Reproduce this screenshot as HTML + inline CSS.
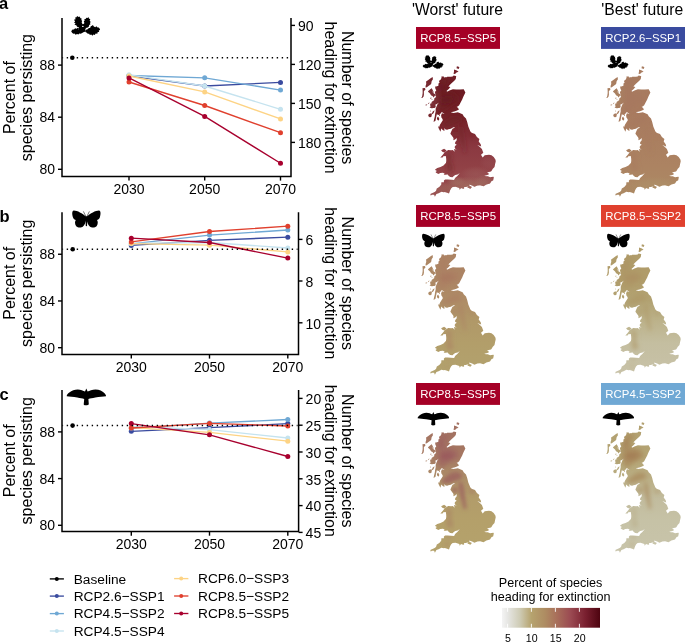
<!DOCTYPE html>
<html><head><meta charset="utf-8"><title>Figure</title>
<style>html,body{margin:0;padding:0;background:#fff;width:685px;height:642px;overflow:hidden}
svg text{font-family:'Liberation Sans',sans-serif}</style></head>
<body><svg width="685" height="642" viewBox="0 0 685 642" style="display:block;will-change:transform;font-family:'Liberation Sans',sans-serif"><text x="-1.00" y="8.60" font-size="16.50" text-anchor="start" fill="#000" font-weight="bold" >a</text>
<path d="M62.00 18.10 V176.40 H291.00 V18.10" fill="none" stroke="#000" stroke-width="1.5"/>
<line x1="58" y1="65.10" x2="62.00" y2="65.10" stroke="#000" stroke-width="1.4"/>
<text x="55.00" y="70.10" font-size="14.00" text-anchor="end" fill="#000" font-weight="normal" >88</text>
<line x1="58" y1="117.20" x2="62.00" y2="117.20" stroke="#000" stroke-width="1.4"/>
<text x="55.00" y="122.20" font-size="14.00" text-anchor="end" fill="#000" font-weight="normal" >84</text>
<line x1="58" y1="169.30" x2="62.00" y2="169.30" stroke="#000" stroke-width="1.4"/>
<text x="55.00" y="174.30" font-size="14.00" text-anchor="end" fill="#000" font-weight="normal" >80</text>
<line x1="291.00" y1="25.40" x2="295.00" y2="25.40" stroke="#000" stroke-width="1.4"/>
<text x="298.00" y="31.10" font-size="14.00" text-anchor="start" fill="#000" font-weight="normal" >90</text>
<line x1="291.00" y1="64.40" x2="295.00" y2="64.40" stroke="#000" stroke-width="1.4"/>
<text x="298.00" y="70.10" font-size="14.00" text-anchor="start" fill="#000" font-weight="normal" >120</text>
<line x1="291.00" y1="103.40" x2="295.00" y2="103.40" stroke="#000" stroke-width="1.4"/>
<text x="298.00" y="109.10" font-size="14.00" text-anchor="start" fill="#000" font-weight="normal" >150</text>
<line x1="291.00" y1="142.40" x2="295.00" y2="142.40" stroke="#000" stroke-width="1.4"/>
<text x="298.00" y="148.10" font-size="14.00" text-anchor="start" fill="#000" font-weight="normal" >180</text>
<line x1="129.00" y1="176.40" x2="129.00" y2="180.60" stroke="#000" stroke-width="1.4"/>
<text x="129.00" y="194.10" font-size="14.00" text-anchor="middle" fill="#000" font-weight="normal" >2030</text>
<line x1="204.70" y1="176.40" x2="204.70" y2="180.60" stroke="#000" stroke-width="1.4"/>
<text x="204.70" y="194.10" font-size="14.00" text-anchor="middle" fill="#000" font-weight="normal" >2050</text>
<line x1="280.50" y1="176.40" x2="280.50" y2="180.60" stroke="#000" stroke-width="1.4"/>
<text x="280.50" y="194.10" font-size="14.00" text-anchor="middle" fill="#000" font-weight="normal" >2070</text>
<text transform="translate(14.6 97.60) rotate(-90)" font-size="16" text-anchor="middle">Percent of</text>
<text transform="translate(31.8 97.60) rotate(-90)" font-size="16" text-anchor="middle">species persisting</text>
<text transform="translate(342.3 97.60) rotate(90)" font-size="16" text-anchor="middle">Number of species</text>
<text transform="translate(325.2 97.60) rotate(90)" font-size="16" text-anchor="middle">heading for extinction</text>
<polyline points="129.00,75.80 204.70,86.00 280.50,82.40" fill="none" stroke="#3A4B9F" stroke-width="1.35"/>
<circle cx="129.00" cy="75.80" r="2.5" fill="#3A4B9F"/>
<circle cx="204.70" cy="86.00" r="2.5" fill="#3A4B9F"/>
<circle cx="280.50" cy="82.40" r="2.5" fill="#3A4B9F"/>
<polyline points="129.00,75.50 204.70,77.80 280.50,90.10" fill="none" stroke="#6FA8D4" stroke-width="1.35"/>
<circle cx="129.00" cy="75.50" r="2.5" fill="#6FA8D4"/>
<circle cx="204.70" cy="77.80" r="2.5" fill="#6FA8D4"/>
<circle cx="280.50" cy="90.10" r="2.5" fill="#6FA8D4"/>
<polyline points="129.00,74.80 204.70,86.00 280.50,109.30" fill="none" stroke="#C5E3EF" stroke-width="1.35"/>
<circle cx="129.00" cy="74.80" r="2.5" fill="#C5E3EF"/>
<circle cx="204.70" cy="86.00" r="2.5" fill="#C5E3EF"/>
<circle cx="280.50" cy="109.30" r="2.5" fill="#C5E3EF"/>
<polyline points="129.00,76.00 204.70,91.90 280.50,118.90" fill="none" stroke="#FDD384" stroke-width="1.35"/>
<circle cx="129.00" cy="76.00" r="2.5" fill="#FDD384"/>
<circle cx="204.70" cy="91.90" r="2.5" fill="#FDD384"/>
<circle cx="280.50" cy="118.90" r="2.5" fill="#FDD384"/>
<polyline points="129.00,82.00 204.70,105.50 280.50,132.70" fill="none" stroke="#E0402E" stroke-width="1.35"/>
<circle cx="129.00" cy="82.00" r="2.5" fill="#E0402E"/>
<circle cx="204.70" cy="105.50" r="2.5" fill="#E0402E"/>
<circle cx="280.50" cy="132.70" r="2.5" fill="#E0402E"/>
<polyline points="129.00,77.90 204.70,116.40 280.50,163.30" fill="none" stroke="#A8002E" stroke-width="1.35"/>
<circle cx="129.00" cy="77.90" r="2.5" fill="#A8002E"/>
<circle cx="204.70" cy="116.40" r="2.5" fill="#A8002E"/>
<circle cx="280.50" cy="163.30" r="2.5" fill="#A8002E"/>
<line x1="62.40" y1="57.80" x2="290.00" y2="57.80" stroke="#000" stroke-width="1.5" stroke-dasharray="1.4 3.6" stroke-dashoffset="0.7" />
<circle cx="72.30" cy="57.80" r="2.3" fill="#000"/>
<g><g fill="#000"><path d="M77.01 26.85 L76.54 25.45 L74.44 24.51 L75.61 23.35 L73.97 22.41 L75.14 21.48 L73.97 19.84 L75.61 19.14 L75.14 17.50 L76.54 17.18 L77.01 16.10 L78.64 16.90 L79.58 16.43 L80.51 18.30 L81.68 18.44 L81.31 20.07 L82.24 21.01 L81.54 22.18 L82.24 23.35 L81.92 25.21 L82.24 27.08 L80.75 27.64Z"/><path d="M83.08 27.32 L84.02 25.45 L83.55 24.05 L84.49 23.11 L83.64 21.48 L84.72 20.54 L84.25 19.14 L85.89 18.86 L86.36 17.74 L87.52 17.93 L88.46 17.04 L88.93 18.58 L90.33 19.37 L89.63 20.78 L90.79 21.94 L89.86 23.11 L90.56 24.28 L89.16 24.98 L88.93 26.38 L87.76 27.55 L85.89 28.02Z"/><path d="M79.35 24.28 L84.49 24.05 L85.89 28.02 L84.95 31.76 L81.68 32.69 L78.41 30.82 L78.88 27.08Z"/><path d="M83.79 31.76 L83.55 30.82 L81.21 28.49 L80.05 27.79 L79.11 28.49 L77.71 27.69 L76.54 28.86 L75.14 28.25 L73.97 29.42 L72.57 29.42 L71.17 31.29 L72.10 32.69 L73.27 33.86 L74.44 33.39 L75.61 34.79 L77.01 34.09 L78.41 34.56 L79.35 33.53 L80.98 33.63 L82.62 32.60Z"/><path d="M84.95 30.82 L86.59 29.19 L87.76 29.33 L88.69 28.02 L90.09 28.02 L90.79 26.15 L91.96 25.68 L92.90 25.03 L93.83 26.38 L95.23 27.22 L96.40 26.24 L97.57 27.55 L98.74 27.55 L99.91 28.95 L100.00 29.89 L98.74 30.45 L99.21 31.76 L97.57 32.22 L97.34 33.63 L95.70 33.39 L94.77 35.03 L93.36 34.56 L92.43 35.73 L91.26 34.56 L89.86 35.03 L89.16 33.86 L87.76 33.86 L86.82 32.69 L85.42 31.99Z"/></g><ellipse cx="82.85" cy="26.38" rx="0.79" ry="0.51" fill="#fff"/><ellipse cx="78.64" cy="29.05" rx="0.37" ry="0.23" fill="#fff"/><line x1="85.65" y1="29.65" x2="87.99" y2="28.39" stroke="#fff" stroke-width="0.55" stroke-linecap="round"/><line x1="83.08" y1="20.54" x2="83.18" y2="22.64" stroke="#fff" stroke-width="0.90" stroke-linecap="round"/></g>
<text x="-0.60" y="222.00" font-size="16.50" text-anchor="start" fill="#000" font-weight="bold" >b</text>
<path d="M62.00 212.20 V354.40 H298.50 V212.20" fill="none" stroke="#000" stroke-width="1.5"/>
<line x1="58" y1="254.25" x2="62.00" y2="254.25" stroke="#000" stroke-width="1.4"/>
<text x="55.00" y="259.25" font-size="14.00" text-anchor="end" fill="#000" font-weight="normal" >88</text>
<line x1="58" y1="300.97" x2="62.00" y2="300.97" stroke="#000" stroke-width="1.4"/>
<text x="55.00" y="305.97" font-size="14.00" text-anchor="end" fill="#000" font-weight="normal" >84</text>
<line x1="58" y1="347.69" x2="62.00" y2="347.69" stroke="#000" stroke-width="1.4"/>
<text x="55.00" y="352.69" font-size="14.00" text-anchor="end" fill="#000" font-weight="normal" >80</text>
<line x1="298.50" y1="239.40" x2="302.50" y2="239.40" stroke="#000" stroke-width="1.4"/>
<text x="305.50" y="245.10" font-size="14.00" text-anchor="start" fill="#000" font-weight="normal" >6</text>
<line x1="298.50" y1="281.00" x2="302.50" y2="281.00" stroke="#000" stroke-width="1.4"/>
<text x="305.50" y="286.70" font-size="14.00" text-anchor="start" fill="#000" font-weight="normal" >8</text>
<line x1="298.50" y1="322.80" x2="302.50" y2="322.80" stroke="#000" stroke-width="1.4"/>
<text x="305.50" y="328.50" font-size="14.00" text-anchor="start" fill="#000" font-weight="normal" >10</text>
<line x1="131.30" y1="354.40" x2="131.30" y2="358.60" stroke="#000" stroke-width="1.4"/>
<text x="131.30" y="372.10" font-size="14.00" text-anchor="middle" fill="#000" font-weight="normal" >2030</text>
<line x1="209.50" y1="354.40" x2="209.50" y2="358.60" stroke="#000" stroke-width="1.4"/>
<text x="209.50" y="372.10" font-size="14.00" text-anchor="middle" fill="#000" font-weight="normal" >2050</text>
<line x1="287.80" y1="354.40" x2="287.80" y2="358.60" stroke="#000" stroke-width="1.4"/>
<text x="287.80" y="372.10" font-size="14.00" text-anchor="middle" fill="#000" font-weight="normal" >2070</text>
<text transform="translate(14.6 283.30) rotate(-90)" font-size="16" text-anchor="middle">Percent of</text>
<text transform="translate(31.8 283.30) rotate(-90)" font-size="16" text-anchor="middle">species persisting</text>
<text transform="translate(342.3 283.30) rotate(90)" font-size="16" text-anchor="middle">Number of species</text>
<text transform="translate(325.2 283.30) rotate(90)" font-size="16" text-anchor="middle">heading for extinction</text>
<polyline points="131.30,245.40 209.50,240.30 287.80,237.20" fill="none" stroke="#3A4B9F" stroke-width="1.35"/>
<circle cx="131.30" cy="245.40" r="2.5" fill="#3A4B9F"/>
<circle cx="209.50" cy="240.30" r="2.5" fill="#3A4B9F"/>
<circle cx="287.80" cy="237.20" r="2.5" fill="#3A4B9F"/>
<polyline points="131.30,243.80 209.50,235.10 287.80,230.00" fill="none" stroke="#6FA8D4" stroke-width="1.35"/>
<circle cx="131.30" cy="243.80" r="2.5" fill="#6FA8D4"/>
<circle cx="209.50" cy="235.10" r="2.5" fill="#6FA8D4"/>
<circle cx="287.80" cy="230.00" r="2.5" fill="#6FA8D4"/>
<polyline points="131.30,243.40 209.50,242.50 287.80,248.00" fill="none" stroke="#C5E3EF" stroke-width="1.35"/>
<circle cx="131.30" cy="243.40" r="2.5" fill="#C5E3EF"/>
<circle cx="209.50" cy="242.50" r="2.5" fill="#C5E3EF"/>
<circle cx="287.80" cy="248.00" r="2.5" fill="#C5E3EF"/>
<polyline points="131.30,243.60 209.50,245.20 287.80,251.90" fill="none" stroke="#FDD384" stroke-width="1.35"/>
<circle cx="131.30" cy="243.60" r="2.5" fill="#FDD384"/>
<circle cx="209.50" cy="245.20" r="2.5" fill="#FDD384"/>
<circle cx="287.80" cy="251.90" r="2.5" fill="#FDD384"/>
<polyline points="131.30,241.90 209.50,231.50 287.80,226.20" fill="none" stroke="#E0402E" stroke-width="1.35"/>
<circle cx="131.30" cy="241.90" r="2.5" fill="#E0402E"/>
<circle cx="209.50" cy="231.50" r="2.5" fill="#E0402E"/>
<circle cx="287.80" cy="226.20" r="2.5" fill="#E0402E"/>
<polyline points="131.30,238.20 209.50,242.50 287.80,258.10" fill="none" stroke="#A8002E" stroke-width="1.35"/>
<circle cx="131.30" cy="238.20" r="2.5" fill="#A8002E"/>
<circle cx="209.50" cy="242.50" r="2.5" fill="#A8002E"/>
<circle cx="287.80" cy="258.10" r="2.5" fill="#A8002E"/>
<line x1="62.40" y1="249.30" x2="297.50" y2="249.30" stroke="#000" stroke-width="1.5" stroke-dasharray="1.4 3.6" stroke-dashoffset="0.7" />
<circle cx="72.70" cy="249.30" r="2.3" fill="#000"/>
<g fill="#000"><path d="M86.10 216.60 C82.40 213.60 77.40 210.60 73.80 210.60 C71.80 210.60 72.00 214.70 73.00 217.40 C73.50 218.80 74.80 219.60 75.80 220.00 C74.80 221.40 74.60 224.20 76.20 226.20 C78.00 227.90 81.40 227.80 83.00 226.40 C84.60 225.00 85.60 222.40 86.10 220.20 Z"/><path d="M86.70 216.60 C90.40 213.60 95.40 210.60 99.00 210.60 C101.00 210.60 100.80 214.70 99.80 217.40 C99.30 218.80 98.00 219.60 97.00 220.00 C98.00 221.40 98.20 224.20 96.60 226.20 C94.80 227.90 91.40 227.80 89.80 226.40 C88.20 225.00 87.20 222.40 86.70 220.20 Z"/><rect x="85.70" y="216.20" width="1.40" height="10.00" rx="0.70"/><path d="M86.00 216.70 L83.40 211.40 M86.80 216.70 L89.40 211.40" stroke="#000" stroke-width="0.55" fill="none"/></g>
<text x="-0.60" y="399.70" font-size="16.50" text-anchor="start" fill="#000" font-weight="bold" >c</text>
<path d="M62.00 390.10 V531.50 H298.60 V390.10" fill="none" stroke="#000" stroke-width="1.5"/>
<line x1="58" y1="431.90" x2="62.00" y2="431.90" stroke="#000" stroke-width="1.4"/>
<text x="55.00" y="436.90" font-size="14.00" text-anchor="end" fill="#000" font-weight="normal" >88</text>
<line x1="58" y1="478.60" x2="62.00" y2="478.60" stroke="#000" stroke-width="1.4"/>
<text x="55.00" y="483.60" font-size="14.00" text-anchor="end" fill="#000" font-weight="normal" >84</text>
<line x1="58" y1="525.30" x2="62.00" y2="525.30" stroke="#000" stroke-width="1.4"/>
<text x="55.00" y="530.30" font-size="14.00" text-anchor="end" fill="#000" font-weight="normal" >80</text>
<line x1="298.60" y1="398.40" x2="302.60" y2="398.40" stroke="#000" stroke-width="1.4"/>
<text x="305.60" y="404.10" font-size="14.00" text-anchor="start" fill="#000" font-weight="normal" >20</text>
<line x1="298.60" y1="425.20" x2="302.60" y2="425.20" stroke="#000" stroke-width="1.4"/>
<text x="305.60" y="430.90" font-size="14.00" text-anchor="start" fill="#000" font-weight="normal" >25</text>
<line x1="298.60" y1="452.00" x2="302.60" y2="452.00" stroke="#000" stroke-width="1.4"/>
<text x="305.60" y="457.70" font-size="14.00" text-anchor="start" fill="#000" font-weight="normal" >30</text>
<line x1="298.60" y1="478.80" x2="302.60" y2="478.80" stroke="#000" stroke-width="1.4"/>
<text x="305.60" y="484.50" font-size="14.00" text-anchor="start" fill="#000" font-weight="normal" >35</text>
<line x1="298.60" y1="505.60" x2="302.60" y2="505.60" stroke="#000" stroke-width="1.4"/>
<text x="305.60" y="511.30" font-size="14.00" text-anchor="start" fill="#000" font-weight="normal" >40</text>
<line x1="298.60" y1="532.40" x2="302.60" y2="532.40" stroke="#000" stroke-width="1.4"/>
<text x="305.60" y="538.10" font-size="14.00" text-anchor="start" fill="#000" font-weight="normal" >45</text>
<line x1="131.30" y1="531.50" x2="131.30" y2="535.70" stroke="#000" stroke-width="1.4"/>
<text x="131.30" y="549.20" font-size="14.00" text-anchor="middle" fill="#000" font-weight="normal" >2030</text>
<line x1="209.50" y1="531.50" x2="209.50" y2="535.70" stroke="#000" stroke-width="1.4"/>
<text x="209.50" y="549.20" font-size="14.00" text-anchor="middle" fill="#000" font-weight="normal" >2050</text>
<line x1="287.80" y1="531.50" x2="287.80" y2="535.70" stroke="#000" stroke-width="1.4"/>
<text x="287.80" y="549.20" font-size="14.00" text-anchor="middle" fill="#000" font-weight="normal" >2070</text>
<text transform="translate(14.6 460.80) rotate(-90)" font-size="16" text-anchor="middle">Percent of</text>
<text transform="translate(31.8 460.80) rotate(-90)" font-size="16" text-anchor="middle">species persisting</text>
<text transform="translate(342.3 460.80) rotate(90)" font-size="16" text-anchor="middle">Number of species</text>
<text transform="translate(325.2 460.80) rotate(90)" font-size="16" text-anchor="middle">heading for extinction</text>
<polyline points="131.30,431.30 209.50,427.70 287.80,423.60" fill="none" stroke="#3A4B9F" stroke-width="1.35"/>
<circle cx="131.30" cy="431.30" r="2.5" fill="#3A4B9F"/>
<circle cx="209.50" cy="427.70" r="2.5" fill="#3A4B9F"/>
<circle cx="287.80" cy="423.60" r="2.5" fill="#3A4B9F"/>
<polyline points="131.30,428.30 209.50,423.10 287.80,419.50" fill="none" stroke="#6FA8D4" stroke-width="1.35"/>
<circle cx="131.30" cy="428.30" r="2.5" fill="#6FA8D4"/>
<circle cx="209.50" cy="423.10" r="2.5" fill="#6FA8D4"/>
<circle cx="287.80" cy="419.50" r="2.5" fill="#6FA8D4"/>
<polyline points="131.30,426.40 209.50,429.60 287.80,438.00" fill="none" stroke="#C5E3EF" stroke-width="1.35"/>
<circle cx="131.30" cy="426.40" r="2.5" fill="#C5E3EF"/>
<circle cx="209.50" cy="429.60" r="2.5" fill="#C5E3EF"/>
<circle cx="287.80" cy="438.00" r="2.5" fill="#C5E3EF"/>
<polyline points="131.30,427.60 209.50,432.40 287.80,441.20" fill="none" stroke="#FDD384" stroke-width="1.35"/>
<circle cx="131.30" cy="427.60" r="2.5" fill="#FDD384"/>
<circle cx="209.50" cy="432.40" r="2.5" fill="#FDD384"/>
<circle cx="287.80" cy="441.20" r="2.5" fill="#FDD384"/>
<polyline points="131.30,428.00 209.50,423.40 287.80,426.00" fill="none" stroke="#E0402E" stroke-width="1.35"/>
<circle cx="131.30" cy="428.00" r="2.5" fill="#E0402E"/>
<circle cx="209.50" cy="423.40" r="2.5" fill="#E0402E"/>
<circle cx="287.80" cy="426.00" r="2.5" fill="#E0402E"/>
<polyline points="131.30,423.60 209.50,434.80 287.80,456.50" fill="none" stroke="#A8002E" stroke-width="1.35"/>
<circle cx="131.30" cy="423.60" r="2.5" fill="#A8002E"/>
<circle cx="209.50" cy="434.80" r="2.5" fill="#A8002E"/>
<circle cx="287.80" cy="456.50" r="2.5" fill="#A8002E"/>
<line x1="62.40" y1="425.60" x2="297.60" y2="425.60" stroke="#000" stroke-width="1.5" stroke-dasharray="1.4 3.6" stroke-dashoffset="0.7" />
<circle cx="72.60" cy="425.60" r="2.3" fill="#000"/>
<path d="M86.30 388.40 L87.60 391.40 C89.30 390.80 92.30 389.40 95.50 389.40 C99.30 389.40 102.50 391.00 104.30 392.90 C105.60 394.30 106.30 395.60 106.00 396.30 C103.30 396.90 99.30 396.80 95.30 397.60 C92.30 398.20 90.30 398.60 88.40 398.90 L88.80 404.20 C88.10 405.60 84.70 405.70 83.70 404.40 L84.20 398.90 C82.30 398.60 80.30 398.20 77.30 397.60 C73.30 396.80 69.30 396.90 66.70 396.30 C66.60 395.20 67.90 393.60 69.30 392.60 C71.70 390.60 74.70 389.40 77.70 389.40 C80.70 389.40 83.30 390.80 85.00 391.40 Z" fill="#000"/>
<line x1="49.80" y1="578.90" x2="63.90" y2="578.90" stroke="#000000" stroke-width="1.35"/>
<circle cx="56.80" cy="578.90" r="2.0" fill="#000000"/>
<text x="73.70" y="583.50" font-size="13.70" text-anchor="start" fill="#000" font-weight="normal" >Baseline</text>
<line x1="49.80" y1="596.10" x2="63.90" y2="596.10" stroke="#3A4B9F" stroke-width="1.35"/>
<circle cx="56.80" cy="596.10" r="2.0" fill="#3A4B9F"/>
<text x="73.70" y="600.70" font-size="13.70" text-anchor="start" fill="#000" font-weight="normal" >RCP2.6−SSP1</text>
<line x1="49.80" y1="613.60" x2="63.90" y2="613.60" stroke="#6FA8D4" stroke-width="1.35"/>
<circle cx="56.80" cy="613.60" r="2.0" fill="#6FA8D4"/>
<text x="73.70" y="618.20" font-size="13.70" text-anchor="start" fill="#000" font-weight="normal" >RCP4.5−SSP2</text>
<line x1="49.80" y1="631.00" x2="63.90" y2="631.00" stroke="#C5E3EF" stroke-width="1.35"/>
<circle cx="56.80" cy="631.00" r="2.0" fill="#C5E3EF"/>
<text x="73.70" y="635.60" font-size="13.70" text-anchor="start" fill="#000" font-weight="normal" >RCP4.5−SSP4</text>
<line x1="174.10" y1="578.60" x2="188.40" y2="578.60" stroke="#FDD384" stroke-width="1.35"/>
<circle cx="181.20" cy="578.60" r="2.0" fill="#FDD384"/>
<text x="198.10" y="583.20" font-size="13.70" text-anchor="start" fill="#000" font-weight="normal" >RCP6.0−SSP3</text>
<line x1="174.10" y1="596.00" x2="188.40" y2="596.00" stroke="#E0402E" stroke-width="1.35"/>
<circle cx="181.20" cy="596.00" r="2.0" fill="#E0402E"/>
<text x="198.10" y="600.60" font-size="13.70" text-anchor="start" fill="#000" font-weight="normal" >RCP8.5−SSP2</text>
<line x1="174.10" y1="613.50" x2="188.40" y2="613.50" stroke="#A8002E" stroke-width="1.35"/>
<circle cx="181.20" cy="613.50" r="2.0" fill="#A8002E"/>
<text x="198.10" y="618.10" font-size="13.70" text-anchor="start" fill="#000" font-weight="normal" >RCP8.5−SSP5</text>
<defs><linearGradient id="cb" x1="0" x2="1" y1="0" y2="0"><stop offset="0" stop-color="#F4F4F4"/><stop offset="0.06" stop-color="#E6E6E3"/><stop offset="0.18" stop-color="#CFCCB6"/><stop offset="0.30" stop-color="#B6A36E"/><stop offset="0.44" stop-color="#AE8C62"/><stop offset="0.55" stop-color="#A9715B"/><stop offset="0.70" stop-color="#9B4A52"/><stop offset="0.85" stop-color="#7A2030"/><stop offset="1" stop-color="#4E0410"/></linearGradient></defs>
<rect x="502" y="607.9" width="98" height="19.8" fill="url(#cb)"/>
<line x1="507.60" y1="607.9" x2="507.60" y2="611.8" stroke="#fff" stroke-width="0.9"/>
<line x1="507.60" y1="623.8" x2="507.60" y2="627.7" stroke="#fff" stroke-width="0.9"/>
<text x="507.90" y="641.50" font-size="10.60" text-anchor="middle" fill="#000" font-weight="normal" >5</text>
<line x1="531.40" y1="607.9" x2="531.40" y2="611.8" stroke="#fff" stroke-width="0.9"/>
<line x1="531.40" y1="623.8" x2="531.40" y2="627.7" stroke="#fff" stroke-width="0.9"/>
<text x="531.70" y="641.50" font-size="10.60" text-anchor="middle" fill="#000" font-weight="normal" >10</text>
<line x1="555.40" y1="607.9" x2="555.40" y2="611.8" stroke="#fff" stroke-width="0.9"/>
<line x1="555.40" y1="623.8" x2="555.40" y2="627.7" stroke="#fff" stroke-width="0.9"/>
<text x="555.70" y="641.50" font-size="10.60" text-anchor="middle" fill="#000" font-weight="normal" >15</text>
<line x1="579.40" y1="607.9" x2="579.40" y2="611.8" stroke="#fff" stroke-width="0.9"/>
<line x1="579.40" y1="623.8" x2="579.40" y2="627.7" stroke="#fff" stroke-width="0.9"/>
<text x="579.70" y="641.50" font-size="10.60" text-anchor="middle" fill="#000" font-weight="normal" >20</text>
<text x="550.60" y="587.00" font-size="12.60" text-anchor="middle" fill="#000" font-weight="normal" >Percent of species</text>
<text x="550.60" y="600.60" font-size="12.60" text-anchor="middle" fill="#000" font-weight="normal" >heading for extinction</text>
<text x="457.50" y="14.60" font-size="15.70" text-anchor="middle" fill="#000" font-weight="normal" >&#39;Worst&#39; future</text>
<text x="642.30" y="14.60" font-size="15.70" text-anchor="middle" fill="#000" font-weight="normal" >&#39;Best&#39; future</text>
<defs><filter id="bl0" x="-20%" y="-20%" width="140%" height="140%"><feGaussianBlur stdDeviation="1.5"/></filter><filter id="bl1" x="-20%" y="-20%" width="140%" height="140%"><feGaussianBlur stdDeviation="2.0"/></filter><filter id="bl2" x="-20%" y="-20%" width="140%" height="140%"><feGaussianBlur stdDeviation="2.2"/></filter><filter id="bl3" x="-20%" y="-20%" width="140%" height="140%"><feGaussianBlur stdDeviation="2.5"/></filter></defs>
<rect x="416.00" y="27.00" width="84" height="21.9" fill="#A50026"/>
<text x="458.20" y="42.10" font-size="11.40" text-anchor="middle" fill="#fff" font-weight="normal" >RCP8.5−SSP5</text>
<g><g fill="#000"><path d="M426.83 62.81 L426.49 61.80 L424.98 61.13 L425.82 60.29 L424.64 59.62 L425.48 58.94 L424.64 57.77 L425.82 57.26 L425.48 56.08 L426.49 55.85 L426.83 55.07 L428.00 55.65 L428.68 55.31 L429.35 56.66 L430.19 56.76 L429.92 57.93 L430.59 58.61 L430.09 59.45 L430.59 60.29 L430.36 61.63 L430.59 62.98 L429.52 63.38Z"/><path d="M431.20 63.15 L431.87 61.80 L431.54 60.79 L432.21 60.12 L431.60 58.94 L432.38 58.27 L432.04 57.26 L433.22 57.06 L433.56 56.25 L434.40 56.39 L435.07 55.75 L435.41 56.86 L436.42 57.43 L435.91 58.44 L436.75 59.28 L436.08 60.12 L436.58 60.96 L435.57 61.47 L435.41 62.48 L434.57 63.32 L433.22 63.65Z"/><path d="M428.51 60.96 L432.21 60.79 L433.22 63.65 L432.55 66.35 L430.19 67.02 L427.84 65.67 L428.17 62.98Z"/><path d="M431.71 66.35 L431.54 65.67 L429.85 63.99 L429.01 63.49 L428.34 63.99 L427.33 63.42 L426.49 64.26 L425.48 63.82 L424.64 64.66 L423.63 64.66 L422.62 66.01 L423.29 67.02 L424.14 67.86 L424.98 67.52 L425.82 68.53 L426.83 68.03 L427.84 68.36 L428.51 67.62 L429.69 67.69 L430.86 66.95Z"/><path d="M432.55 65.67 L433.72 64.49 L434.57 64.60 L435.24 63.65 L436.25 63.65 L436.75 62.31 L437.59 61.97 L438.27 61.50 L438.94 62.48 L439.95 63.08 L440.79 62.37 L441.63 63.32 L442.47 63.32 L443.31 64.33 L443.38 65.00 L442.47 65.40 L442.81 66.35 L441.63 66.68 L441.46 67.69 L440.28 67.52 L439.61 68.70 L438.60 68.36 L437.93 69.20 L437.09 68.36 L436.08 68.70 L435.57 67.86 L434.57 67.86 L433.89 67.02 L432.88 66.51Z"/></g><ellipse cx="431.03" cy="62.48" rx="0.57" ry="0.37" fill="#fff"/><ellipse cx="428.00" cy="64.39" rx="0.27" ry="0.17" fill="#fff"/><line x1="433.05" y1="64.83" x2="434.73" y2="63.92" stroke="#fff" stroke-width="0.40" stroke-linecap="round"/><line x1="431.20" y1="58.27" x2="431.27" y2="59.78" stroke="#fff" stroke-width="0.65" stroke-linecap="round"/></g>
<defs><linearGradient id="g00" gradientUnits="userSpaceOnUse" x1="0" y1="66.0" x2="0" y2="197.0"><stop offset="0.000" stop-color="#76242C"/><stop offset="0.183" stop-color="#6C1A22"/><stop offset="0.397" stop-color="#742228"/><stop offset="0.550" stop-color="#843039"/><stop offset="0.641" stop-color="#8C3A42"/><stop offset="0.756" stop-color="#904045"/><stop offset="0.870" stop-color="#96484C"/><stop offset="1.000" stop-color="#9A5452"/></linearGradient><clipPath id="c00"><path d="M441.8 76.0 L442.9 76.8 L443.6 76.3 L444.1 77.7 L445.1 77.1 L446.0 77.4 L447.3 76.7 L449.1 76.8 L450.9 76.8 L452.6 76.5 L453.7 75.6 L455.7 76.1 L456.2 76.0 L455.8 78.9 L454.3 80.8 L451.5 83.3 L449.2 85.6 L448.4 86.5 L450.4 86.9 L448.7 89.1 L446.4 91.1 L447.2 91.8 L449.5 90.5 L452.9 89.2 L456.2 89.5 L460.0 89.6 L463.7 89.3 L465.4 92.4 L463.2 97.0 L462.2 99.6 L460.2 103.3 L459.2 105.3 L457.7 106.6 L455.2 107.1 L456.9 106.7 L458.3 108.5 L459.2 109.3 L457.1 110.5 L454.3 111.6 L450.8 112.2 L453.5 113.1 L457.8 112.2 L460.2 113.3 L462.6 114.2 L463.7 116.3 L466.0 118.5 L467.2 122.1 L468.4 126.7 L470.3 131.2 L471.0 132.3 L472.2 132.9 L475.0 134.0 L476.9 136.9 L479.4 139.1 L478.7 141.5 L480.7 144.2 L481.2 146.6 L477.4 145.0 L479.9 147.0 L481.9 149.1 L483.3 152.7 L481.0 154.7 L482.7 157.4 L484.7 155.3 L489.0 154.8 L491.5 155.3 L493.7 157.0 L495.5 159.7 L495.7 161.4 L495.1 163.9 L494.5 167.0 L492.6 168.9 L492.0 170.2 L491.0 171.4 L488.8 171.9 L487.1 172.6 L489.3 174.0 L487.4 175.0 L484.2 175.8 L485.9 176.2 L487.8 176.3 L490.1 177.3 L493.2 176.7 L493.8 177.0 L493.5 179.1 L493.1 180.4 L491.6 181.1 L490.0 183.6 L486.4 184.5 L483.5 186.3 L480.1 185.2 L477.4 185.4 L474.4 186.7 L472.1 185.6 L469.2 184.5 L469.5 186.0 L467.7 186.5 L465.6 186.9 L464.1 187.0 L464.1 188.4 L463.2 188.7 L461.0 188.1 L459.7 189.7 L459.3 188.1 L455.5 186.7 L452.6 187.1 L451.2 188.2 L450.1 190.2 L449.6 191.8 L449.0 193.6 L447.2 192.7 L444.8 191.9 L443.9 192.2 L441.4 191.8 L438.6 193.3 L436.4 194.1 L434.9 196.7 L434.1 194.7 L431.9 194.7 L430.9 195.4 L430.3 195.0 L430.7 193.8 L432.5 193.1 L435.1 191.7 L436.2 190.4 L436.8 188.6 L439.3 187.0 L441.2 184.8 L441.4 182.2 L443.9 182.3 L443.9 180.6 L445.1 179.6 L447.5 179.4 L450.8 179.8 L454.1 180.0 L455.1 177.9 L457.6 175.8 L459.8 173.1 L457.6 174.4 L455.2 175.1 L453.5 176.3 L452.5 177.3 L450.2 177.1 L448.9 176.0 L447.2 174.3 L446.3 174.7 L443.7 174.7 L444.6 173.5 L442.9 172.7 L440.3 173.1 L438.3 174.0 L436.1 172.8 L435.5 172.0 L436.9 171.1 L435.2 169.9 L435.1 169.6 L437.3 167.9 L440.5 167.1 L443.5 165.6 L445.9 162.9 L446.3 161.0 L446.2 158.6 L445.8 156.1 L443.3 156.3 L442.6 157.4 L440.3 157.4 L442.2 155.5 L444.0 153.2 L444.6 152.5 L445.9 151.5 L448.2 150.1 L451.2 150.3 L452.7 149.9 L454.9 151.8 L453.9 149.4 L454.9 148.9 L456.6 150.0 L455.1 148.6 L454.6 147.0 L455.3 145.8 L456.7 144.8 L454.9 143.4 L455.3 141.9 L456.7 140.2 L456.7 138.1 L455.1 139.5 L453.4 140.2 L453.5 138.1 L452.1 136.0 L450.4 133.7 L451.0 131.9 L452.5 128.7 L455.3 127.6 L453.3 127.3 L450.8 128.7 L448.4 129.3 L447.2 129.8 L445.6 129.5 L444.4 128.1 L444.4 131.1 L442.7 130.1 L441.2 128.4 L440.5 131.7 L439.5 130.0 L438.4 127.8 L438.3 126.3 L439.4 126.8 L439.8 125.1 L440.9 123.2 L442.8 120.2 L442.5 118.9 L441.4 117.6 L441.1 115.4 L441.9 113.3 L444.5 114.1 L443.3 112.9 L441.8 111.9 L440.8 113.3 L439.7 114.6 L438.4 115.0 L436.8 114.2 L436.0 117.9 L435.5 120.7 L433.6 122.1 L433.9 119.9 L434.8 116.5 L435.1 114.0 L435.7 111.6 L435.7 108.8 L436.6 106.6 L437.3 104.7 L439.0 102.4 L437.1 103.7 L434.8 105.0 L432.9 103.8 L431.3 102.3 L434.2 100.3 L434.5 98.3 L436.3 97.0 L435.3 95.5 L435.6 94.4 L434.9 92.0 L436.3 90.7 L435.3 88.1 L435.3 86.4 L436.7 86.6 L438.7 85.6 L438.4 83.8 L439.7 82.4 L438.9 80.9 L440.6 79.7 L441.4 78.2ZM432.6 76.9 L432.9 79.3 L431.6 81.3 L431.1 84.0 L429.1 85.6 L426.7 87.2 L425.6 87.6 L425.7 85.8 L426.3 83.7 L426.1 81.6 L428.0 80.3 L430.3 78.4ZM424.8 88.1 L425.5 89.3 L423.8 91.2 L423.9 94.7 L423.4 96.8 L422.1 98.1 L421.4 98.1 L422.3 96.0 L422.7 93.3 L422.7 90.4 L422.5 88.3ZM431.6 88.3 L432.9 90.5 L432.4 92.5 L435.3 94.4 L434.9 95.5 L433.6 97.5 L432.6 96.0 L431.1 95.3 L430.1 93.5 L427.9 91.5 L429.2 90.2 L430.4 89.3ZM432.2 103.0 L434.8 104.3 L435.7 106.0 L435.2 107.7 L431.8 108.3 L429.6 107.5 L430.8 106.2 L430.1 105.0 L430.6 103.6ZM431.4 113.2 L431.9 114.2 L431.3 117.0 L429.7 117.2 L428.2 116.1 L428.8 114.0ZM434.5 110.2 L434.0 112.2 L432.7 114.3 L431.9 113.5 L432.8 111.5ZM438.1 116.4 L439.3 118.8 L438.9 120.4 L437.4 120.1 L436.8 118.0ZM454.0 69.6 L456.9 70.4 L458.6 71.8 L456.5 72.5 L455.0 74.1 L453.5 73.8 L454.0 71.7ZM456.9 66.2 L459.4 66.9 L458.7 69.0 L456.5 68.3ZM444.1 148.7 L446.6 150.5 L444.4 152.5 L442.3 151.8 L441.1 150.3ZM425.5 104.7 L427.1 104.4 L427.2 105.1 L425.8 105.4ZM429.5 102.4 L429.1 103.2 L427.9 103.9 L428.1 103.2ZM431.0 97.6 L431.5 98.1 L430.9 98.7 L430.2 98.3ZM432.2 99.2 L432.4 99.8 L431.7 100.1 L431.6 99.5ZM433.5 90.9 L433.3 93.3 L432.8 93.1 L432.8 91.9ZM439.4 113.9 L440.1 116.0 L439.3 116.1 L439.0 114.6ZM431.1 110.5 L430.9 111.6 L430.4 111.5 L430.4 110.8ZM469.9 186.0 L471.9 187.0 L470.4 188.7 L467.4 187.4 L468.1 186.5Z"/></clipPath><radialGradient id="r00_0"><stop offset="0" stop-color="#8E4850" stop-opacity="0.50"/><stop offset="0.5" stop-color="#8E4850" stop-opacity="0.35"/><stop offset="1" stop-color="#8E4850" stop-opacity="0"/></radialGradient><radialGradient id="r00_1"><stop offset="0" stop-color="#A8806A" stop-opacity="0.55"/><stop offset="0.5" stop-color="#A8806A" stop-opacity="0.39"/><stop offset="1" stop-color="#A8806A" stop-opacity="0"/></radialGradient><radialGradient id="r00_2"><stop offset="0" stop-color="#A06A5E" stop-opacity="0.50"/><stop offset="0.5" stop-color="#A06A5E" stop-opacity="0.35"/><stop offset="1" stop-color="#A06A5E" stop-opacity="0"/></radialGradient><radialGradient id="r00_3"><stop offset="0" stop-color="#A47868" stop-opacity="0.45"/><stop offset="0.5" stop-color="#A47868" stop-opacity="0.32"/><stop offset="1" stop-color="#A47868" stop-opacity="0"/></radialGradient><radialGradient id="r00_4"><stop offset="0" stop-color="#9A5458" stop-opacity="0.35"/><stop offset="0.5" stop-color="#9A5458" stop-opacity="0.24"/><stop offset="1" stop-color="#9A5458" stop-opacity="0"/></radialGradient><radialGradient id="r00_5"><stop offset="0" stop-color="#A47868" stop-opacity="0.40"/><stop offset="0.5" stop-color="#A47868" stop-opacity="0.28"/><stop offset="1" stop-color="#A47868" stop-opacity="0"/></radialGradient><radialGradient id="r00_6"><stop offset="0" stop-color="#A06460" stop-opacity="0.40"/><stop offset="0.5" stop-color="#A06460" stop-opacity="0.28"/><stop offset="1" stop-color="#A06460" stop-opacity="0"/></radialGradient></defs>
<g clip-path="url(#c00)"><rect x="412" y="60" width="90" height="140" fill="url(#g00)"/><path d="M441.8 112.6 L446.6 108.6 L452.1 104.5 L459.1 101.1 L458.4 97.6 L456.1 94.8 L453.2 92.7 L447.9 91.8 L445.1 87.6 L447.4 83.4 L449.7 80.7 L449.1 78.6 L445.4 77.8 L441.8 77.6 L439.4 81.7 L437.6 87.2 L436.6 92.8 L436.3 98.4 L436.0 102.5 L438.1 106.8 L440.3 111.1ZM441.3 125.2 L446.2 121.1 L451.9 117.1 L457.4 116.5 L461.3 118.6 L461.3 122.1 L455.7 124.2 L449.3 126.8 L443.6 127.3ZM458.9 126.3 L462.1 127.0 L463.7 134.0 L464.5 141.0 L465.4 146.6 L466.2 152.1 L464.1 153.5 L462.9 147.9 L460.8 141.0 L459.6 134.0ZM453.2 131.8 L457.2 132.6 L456.8 136.0 L453.9 136.7 L452.3 134.6ZM470.2 134.0 L474.3 134.6 L473.5 136.7 L470.2 136.7ZM446.1 152.6 L449.5 152.0 L451.9 156.2 L450.9 161.8 L453.4 168.8 L452.5 171.6 L447.3 171.5 L446.5 165.9 L447.6 160.3 L446.8 156.1ZM446.0 187.5 L447.7 186.8 L448.1 189.6 L446.3 190.3ZM447.0 179.8 L450.5 180.6 L449.6 182.0 L447.0 181.2Z" fill="#6C1E26" fill-opacity="0.45" filter="url(#bl2)"/><path d="M443.7 104.3 L451.4 102.4 L454.6 99.0 L452.3 96.2 L447.0 96.0 L440.9 97.2 L439.2 101.3ZM438.8 94.3 L441.2 90.2 L442.2 84.6 L441.6 81.8 L439.2 85.9 L438.1 91.4Z" fill="#62141C" fill-opacity="0.60" filter="url(#bl3)"/><ellipse cx="430.0" cy="97.0" rx="12.8" ry="22.4" fill="url(#r00_0)"/><ellipse cx="468.0" cy="186.0" rx="25.6" ry="9.6" fill="url(#r00_1)"/><ellipse cx="444.0" cy="189.0" rx="11.2" ry="6.4" fill="url(#r00_2)"/><ellipse cx="485.0" cy="181.0" rx="11.2" ry="6.4" fill="url(#r00_3)"/><ellipse cx="489.0" cy="163.0" rx="9.6" ry="8.0" fill="url(#r00_4)"/><ellipse cx="456.0" cy="181.0" rx="9.6" ry="4.8" fill="url(#r00_5)"/><ellipse cx="476.0" cy="174.0" rx="16.0" ry="8.0" fill="url(#r00_6)"/></g>
<rect x="601.00" y="27.00" width="84" height="21.9" fill="#3A4B9F"/>
<text x="643.20" y="42.10" font-size="11.40" text-anchor="middle" fill="#fff" font-weight="normal" >RCP2.6−SSP1</text>
<g><g fill="#000"><path d="M611.83 62.81 L611.49 61.80 L609.98 61.13 L610.82 60.29 L609.64 59.62 L610.48 58.94 L609.64 57.77 L610.82 57.26 L610.48 56.08 L611.49 55.85 L611.83 55.07 L613.00 55.65 L613.68 55.31 L614.35 56.66 L615.19 56.76 L614.92 57.93 L615.59 58.61 L615.09 59.45 L615.59 60.29 L615.36 61.63 L615.59 62.98 L614.52 63.38Z"/><path d="M616.20 63.15 L616.87 61.80 L616.54 60.79 L617.21 60.12 L616.60 58.94 L617.38 58.27 L617.04 57.26 L618.22 57.06 L618.56 56.25 L619.40 56.39 L620.07 55.75 L620.41 56.86 L621.42 57.43 L620.91 58.44 L621.75 59.28 L621.08 60.12 L621.58 60.96 L620.57 61.47 L620.41 62.48 L619.57 63.32 L618.22 63.65Z"/><path d="M613.51 60.96 L617.21 60.79 L618.22 63.65 L617.55 66.35 L615.19 67.02 L612.84 65.67 L613.17 62.98Z"/><path d="M616.71 66.35 L616.54 65.67 L614.85 63.99 L614.01 63.49 L613.34 63.99 L612.33 63.42 L611.49 64.26 L610.48 63.82 L609.64 64.66 L608.63 64.66 L607.62 66.01 L608.29 67.02 L609.14 67.86 L609.98 67.52 L610.82 68.53 L611.83 68.03 L612.84 68.36 L613.51 67.62 L614.69 67.69 L615.86 66.95Z"/><path d="M617.55 65.67 L618.72 64.49 L619.57 64.60 L620.24 63.65 L621.25 63.65 L621.75 62.31 L622.59 61.97 L623.27 61.50 L623.94 62.48 L624.95 63.08 L625.79 62.37 L626.63 63.32 L627.47 63.32 L628.31 64.33 L628.38 65.00 L627.47 65.40 L627.81 66.35 L626.63 66.68 L626.46 67.69 L625.28 67.52 L624.61 68.70 L623.60 68.36 L622.93 69.20 L622.09 68.36 L621.08 68.70 L620.57 67.86 L619.57 67.86 L618.89 67.02 L617.88 66.51Z"/></g><ellipse cx="616.03" cy="62.48" rx="0.57" ry="0.37" fill="#fff"/><ellipse cx="613.00" cy="64.39" rx="0.27" ry="0.17" fill="#fff"/><line x1="618.05" y1="64.83" x2="619.73" y2="63.92" stroke="#fff" stroke-width="0.40" stroke-linecap="round"/><line x1="616.20" y1="58.27" x2="616.27" y2="59.78" stroke="#fff" stroke-width="0.65" stroke-linecap="round"/></g>
<defs><linearGradient id="g01" gradientUnits="userSpaceOnUse" x1="0" y1="66.0" x2="0" y2="197.0"><stop offset="0.000" stop-color="#A87C60"/><stop offset="0.336" stop-color="#A87A5F"/><stop offset="0.565" stop-color="#AA7F60"/><stop offset="0.756" stop-color="#AC8362"/><stop offset="1.000" stop-color="#AC8A64"/></linearGradient><clipPath id="c01"><path d="M626.8 76.0 L627.9 76.8 L628.6 76.3 L629.1 77.7 L630.1 77.1 L631.0 77.4 L632.3 76.7 L634.1 76.8 L635.9 76.8 L637.6 76.5 L638.7 75.6 L640.7 76.1 L641.2 76.0 L640.8 78.9 L639.3 80.8 L636.5 83.3 L634.2 85.6 L633.4 86.5 L635.4 86.9 L633.7 89.1 L631.4 91.1 L632.2 91.8 L634.5 90.5 L637.9 89.2 L641.2 89.5 L645.0 89.6 L648.7 89.3 L650.4 92.4 L648.2 97.0 L647.2 99.6 L645.2 103.3 L644.2 105.3 L642.7 106.6 L640.2 107.1 L641.9 106.7 L643.3 108.5 L644.2 109.3 L642.1 110.5 L639.3 111.6 L635.8 112.2 L638.5 113.1 L642.8 112.2 L645.2 113.3 L647.6 114.2 L648.7 116.3 L651.0 118.5 L652.2 122.1 L653.4 126.7 L655.3 131.2 L656.0 132.3 L657.2 132.9 L660.0 134.0 L661.9 136.9 L664.4 139.1 L663.7 141.5 L665.7 144.2 L666.2 146.6 L662.4 145.0 L664.9 147.0 L666.9 149.1 L668.3 152.7 L666.0 154.7 L667.7 157.4 L669.7 155.3 L674.0 154.8 L676.5 155.3 L678.7 157.0 L680.5 159.7 L680.7 161.4 L680.1 163.9 L679.5 167.0 L677.6 168.9 L677.0 170.2 L676.0 171.4 L673.8 171.9 L672.1 172.6 L674.3 174.0 L672.4 175.0 L669.2 175.8 L670.9 176.2 L672.8 176.3 L675.1 177.3 L678.2 176.7 L678.8 177.0 L678.5 179.1 L678.1 180.4 L676.6 181.1 L675.0 183.6 L671.4 184.5 L668.5 186.3 L665.1 185.2 L662.4 185.4 L659.4 186.7 L657.1 185.6 L654.2 184.5 L654.5 186.0 L652.7 186.5 L650.6 186.9 L649.1 187.0 L649.1 188.4 L648.2 188.7 L646.0 188.1 L644.7 189.7 L644.3 188.1 L640.5 186.7 L637.6 187.1 L636.2 188.2 L635.1 190.2 L634.6 191.8 L634.0 193.6 L632.2 192.7 L629.8 191.9 L628.9 192.2 L626.4 191.8 L623.6 193.3 L621.4 194.1 L619.9 196.7 L619.1 194.7 L616.9 194.7 L615.9 195.4 L615.3 195.0 L615.7 193.8 L617.5 193.1 L620.1 191.7 L621.2 190.4 L621.8 188.6 L624.3 187.0 L626.2 184.8 L626.4 182.2 L628.9 182.3 L628.9 180.6 L630.1 179.6 L632.5 179.4 L635.8 179.8 L639.1 180.0 L640.1 177.9 L642.6 175.8 L644.8 173.1 L642.6 174.4 L640.2 175.1 L638.5 176.3 L637.5 177.3 L635.2 177.1 L633.9 176.0 L632.2 174.3 L631.3 174.7 L628.7 174.7 L629.6 173.5 L627.9 172.7 L625.3 173.1 L623.3 174.0 L621.1 172.8 L620.5 172.0 L621.9 171.1 L620.2 169.9 L620.1 169.6 L622.3 167.9 L625.5 167.1 L628.5 165.6 L630.9 162.9 L631.3 161.0 L631.2 158.6 L630.8 156.1 L628.3 156.3 L627.6 157.4 L625.3 157.4 L627.2 155.5 L629.0 153.2 L629.6 152.5 L630.9 151.5 L633.2 150.1 L636.2 150.3 L637.7 149.9 L639.9 151.8 L638.9 149.4 L639.9 148.9 L641.6 150.0 L640.1 148.6 L639.6 147.0 L640.3 145.8 L641.7 144.8 L639.9 143.4 L640.3 141.9 L641.7 140.2 L641.7 138.1 L640.1 139.5 L638.4 140.2 L638.5 138.1 L637.1 136.0 L635.4 133.7 L636.0 131.9 L637.5 128.7 L640.3 127.6 L638.3 127.3 L635.8 128.7 L633.4 129.3 L632.2 129.8 L630.6 129.5 L629.4 128.1 L629.4 131.1 L627.7 130.1 L626.2 128.4 L625.5 131.7 L624.5 130.0 L623.4 127.8 L623.3 126.3 L624.4 126.8 L624.8 125.1 L625.9 123.2 L627.8 120.2 L627.5 118.9 L626.4 117.6 L626.1 115.4 L626.9 113.3 L629.5 114.1 L628.3 112.9 L626.8 111.9 L625.8 113.3 L624.7 114.6 L623.4 115.0 L621.8 114.2 L621.0 117.9 L620.5 120.7 L618.6 122.1 L618.9 119.9 L619.8 116.5 L620.1 114.0 L620.7 111.6 L620.7 108.8 L621.6 106.6 L622.3 104.7 L624.0 102.4 L622.1 103.7 L619.8 105.0 L617.9 103.8 L616.3 102.3 L619.2 100.3 L619.5 98.3 L621.3 97.0 L620.3 95.5 L620.6 94.4 L619.9 92.0 L621.3 90.7 L620.3 88.1 L620.3 86.4 L621.7 86.6 L623.7 85.6 L623.4 83.8 L624.7 82.4 L623.9 80.9 L625.6 79.7 L626.4 78.2ZM617.6 76.9 L617.9 79.3 L616.6 81.3 L616.1 84.0 L614.1 85.6 L611.7 87.2 L610.6 87.6 L610.7 85.8 L611.3 83.7 L611.1 81.6 L613.0 80.3 L615.3 78.4ZM609.8 88.1 L610.5 89.3 L608.8 91.2 L608.9 94.7 L608.4 96.8 L607.1 98.1 L606.4 98.1 L607.3 96.0 L607.7 93.3 L607.7 90.4 L607.5 88.3ZM616.6 88.3 L617.9 90.5 L617.4 92.5 L620.3 94.4 L619.9 95.5 L618.6 97.5 L617.6 96.0 L616.1 95.3 L615.1 93.5 L612.9 91.5 L614.2 90.2 L615.4 89.3ZM617.2 103.0 L619.8 104.3 L620.7 106.0 L620.2 107.7 L616.8 108.3 L614.6 107.5 L615.8 106.2 L615.1 105.0 L615.6 103.6ZM616.4 113.2 L616.9 114.2 L616.3 117.0 L614.7 117.2 L613.2 116.1 L613.8 114.0ZM619.5 110.2 L619.0 112.2 L617.7 114.3 L616.9 113.5 L617.8 111.5ZM623.1 116.4 L624.3 118.8 L623.9 120.4 L622.4 120.1 L621.8 118.0ZM639.0 69.6 L641.9 70.4 L643.6 71.8 L641.5 72.5 L640.0 74.1 L638.5 73.8 L639.0 71.7ZM641.9 66.2 L644.4 66.9 L643.7 69.0 L641.5 68.3ZM629.1 148.7 L631.6 150.5 L629.4 152.5 L627.3 151.8 L626.1 150.3ZM610.5 104.7 L612.1 104.4 L612.2 105.1 L610.8 105.4ZM614.5 102.4 L614.1 103.2 L612.9 103.9 L613.1 103.2ZM616.0 97.6 L616.5 98.1 L615.9 98.7 L615.2 98.3ZM617.2 99.2 L617.4 99.8 L616.7 100.1 L616.6 99.5ZM618.5 90.9 L618.3 93.3 L617.8 93.1 L617.8 91.9ZM624.4 113.9 L625.1 116.0 L624.3 116.1 L624.0 114.6ZM616.1 110.5 L615.9 111.6 L615.4 111.5 L615.4 110.8ZM654.9 186.0 L656.9 187.0 L655.4 188.7 L652.4 187.4 L653.1 186.5Z"/></clipPath><radialGradient id="r01_0"><stop offset="0" stop-color="#B09A70" stop-opacity="0.35"/><stop offset="0.5" stop-color="#B09A70" stop-opacity="0.24"/><stop offset="1" stop-color="#B09A70" stop-opacity="0"/></radialGradient><radialGradient id="r01_1"><stop offset="0" stop-color="#AA8A64" stop-opacity="0.40"/><stop offset="0.5" stop-color="#AA8A64" stop-opacity="0.28"/><stop offset="1" stop-color="#AA8A64" stop-opacity="0"/></radialGradient></defs>
<g clip-path="url(#c01)"><rect x="597" y="60" width="90" height="140" fill="url(#g01)"/><path d="M626.8 112.6 L631.6 108.6 L637.1 104.5 L644.1 101.1 L643.4 97.6 L641.1 94.8 L638.2 92.7 L632.9 91.8 L630.1 87.6 L632.4 83.4 L634.7 80.7 L634.1 78.6 L630.4 77.8 L626.8 77.6 L624.4 81.7 L622.6 87.2 L621.6 92.8 L621.3 98.4 L621.0 102.5 L623.1 106.8 L625.3 111.1ZM626.3 125.2 L631.2 121.1 L636.9 117.1 L642.4 116.5 L646.3 118.6 L646.3 122.1 L640.7 124.2 L634.3 126.8 L628.6 127.3ZM643.9 126.3 L647.1 127.0 L648.7 134.0 L649.5 141.0 L650.4 146.6 L651.2 152.1 L649.1 153.5 L647.9 147.9 L645.8 141.0 L644.6 134.0ZM638.2 131.8 L642.2 132.6 L641.8 136.0 L638.9 136.7 L637.3 134.6ZM655.2 134.0 L659.3 134.6 L658.5 136.7 L655.2 136.7ZM631.1 152.6 L634.5 152.0 L636.9 156.2 L635.9 161.8 L638.4 168.8 L637.5 171.6 L632.3 171.5 L631.5 165.9 L632.6 160.3 L631.8 156.1ZM631.0 187.5 L632.7 186.8 L633.1 189.6 L631.3 190.3ZM632.0 179.8 L635.5 180.6 L634.6 182.0 L632.0 181.2Z" fill="#A6785E" fill-opacity="0.45" filter="url(#bl2)"/><ellipse cx="655.0" cy="186.0" rx="28.8" ry="9.6" fill="url(#r01_0)"/><ellipse cx="615.0" cy="97.0" rx="12.8" ry="22.4" fill="url(#r01_1)"/></g>
<rect x="416.00" y="205.00" width="84" height="21.9" fill="#A50026"/>
<text x="458.20" y="220.10" font-size="11.40" text-anchor="middle" fill="#fff" font-weight="normal" >RCP8.5−SSP5</text>
<g fill="#000"><path d="M433.16 238.62 C430.20 236.22 426.20 233.82 423.32 233.82 C421.72 233.82 421.88 237.10 422.68 239.26 C423.08 240.38 424.12 241.02 424.92 241.34 C424.12 242.46 423.96 244.70 425.24 246.30 C426.68 247.66 429.40 247.58 430.68 246.46 C431.96 245.34 432.76 243.26 433.16 241.50 Z"/><path d="M433.64 238.62 C436.60 236.22 440.60 233.82 443.48 233.82 C445.08 233.82 444.92 237.10 444.12 239.26 C443.72 240.38 442.68 241.02 441.88 241.34 C442.68 242.46 442.84 244.70 441.56 246.30 C440.12 247.66 437.40 247.58 436.12 246.46 C434.84 245.34 434.04 243.26 433.64 241.50 Z"/><rect x="432.84" y="238.30" width="1.12" height="8.00" rx="0.56"/><path d="M433.08 238.70 L431.00 234.46 M433.72 238.70 L435.80 234.46" stroke="#000" stroke-width="0.44" fill="none"/></g>
<defs><linearGradient id="g10" gradientUnits="userSpaceOnUse" x1="0" y1="244.0" x2="0" y2="375.0"><stop offset="0.000" stop-color="#AC8464"/><stop offset="0.260" stop-color="#AC8464"/><stop offset="0.427" stop-color="#AE8C66"/><stop offset="0.580" stop-color="#B09868"/><stop offset="0.756" stop-color="#B29E6A"/><stop offset="1.000" stop-color="#B2A26E"/></linearGradient><clipPath id="c10"><path d="M441.8 254.0 L442.9 254.8 L443.6 254.3 L444.1 255.7 L445.1 255.1 L446.0 255.4 L447.3 254.7 L449.1 254.8 L450.9 254.8 L452.6 254.5 L453.7 253.6 L455.7 254.1 L456.2 254.0 L455.8 256.9 L454.3 258.8 L451.5 261.3 L449.2 263.6 L448.4 264.5 L450.4 264.9 L448.7 267.1 L446.4 269.1 L447.2 269.8 L449.5 268.5 L452.9 267.2 L456.2 267.5 L460.0 267.6 L463.7 267.3 L465.4 270.4 L463.2 275.0 L462.2 277.6 L460.2 281.3 L459.2 283.3 L457.7 284.6 L455.2 285.1 L456.9 284.7 L458.3 286.5 L459.2 287.3 L457.1 288.5 L454.3 289.6 L450.8 290.2 L453.5 291.1 L457.8 290.2 L460.2 291.3 L462.6 292.2 L463.7 294.3 L466.0 296.5 L467.2 300.1 L468.4 304.7 L470.3 309.2 L471.0 310.3 L472.2 310.9 L475.0 312.0 L476.9 314.9 L479.4 317.1 L478.7 319.5 L480.7 322.2 L481.2 324.6 L477.4 323.0 L479.9 325.0 L481.9 327.1 L483.3 330.7 L481.0 332.7 L482.7 335.4 L484.7 333.3 L489.0 332.8 L491.5 333.3 L493.7 335.0 L495.5 337.7 L495.7 339.4 L495.1 341.9 L494.5 345.0 L492.6 346.9 L492.0 348.2 L491.0 349.4 L488.8 349.9 L487.1 350.6 L489.3 352.0 L487.4 353.0 L484.2 353.8 L485.9 354.2 L487.8 354.3 L490.1 355.3 L493.2 354.7 L493.8 355.0 L493.5 357.1 L493.1 358.4 L491.6 359.1 L490.0 361.6 L486.4 362.5 L483.5 364.3 L480.1 363.2 L477.4 363.4 L474.4 364.7 L472.1 363.6 L469.2 362.5 L469.5 364.0 L467.7 364.5 L465.6 364.9 L464.1 365.0 L464.1 366.4 L463.2 366.7 L461.0 366.1 L459.7 367.7 L459.3 366.1 L455.5 364.7 L452.6 365.1 L451.2 366.2 L450.1 368.2 L449.6 369.8 L449.0 371.6 L447.2 370.7 L444.8 369.9 L443.9 370.2 L441.4 369.8 L438.6 371.3 L436.4 372.1 L434.9 374.7 L434.1 372.7 L431.9 372.7 L430.9 373.4 L430.3 373.0 L430.7 371.8 L432.5 371.1 L435.1 369.7 L436.2 368.4 L436.8 366.6 L439.3 365.0 L441.2 362.8 L441.4 360.2 L443.9 360.3 L443.9 358.6 L445.1 357.6 L447.5 357.4 L450.8 357.8 L454.1 358.0 L455.1 355.9 L457.6 353.8 L459.8 351.1 L457.6 352.4 L455.2 353.1 L453.5 354.3 L452.5 355.3 L450.2 355.1 L448.9 354.0 L447.2 352.3 L446.3 352.7 L443.7 352.7 L444.6 351.5 L442.9 350.7 L440.3 351.1 L438.3 352.0 L436.1 350.8 L435.5 350.0 L436.9 349.1 L435.2 347.9 L435.1 347.6 L437.3 345.9 L440.5 345.1 L443.5 343.6 L445.9 340.9 L446.3 339.0 L446.2 336.6 L445.8 334.1 L443.3 334.3 L442.6 335.4 L440.3 335.4 L442.2 333.5 L444.0 331.2 L444.6 330.5 L445.9 329.5 L448.2 328.1 L451.2 328.3 L452.7 327.9 L454.9 329.8 L453.9 327.4 L454.9 326.9 L456.6 328.0 L455.1 326.6 L454.6 325.0 L455.3 323.8 L456.7 322.8 L454.9 321.4 L455.3 319.9 L456.7 318.2 L456.7 316.1 L455.1 317.5 L453.4 318.2 L453.5 316.1 L452.1 314.0 L450.4 311.7 L451.0 309.9 L452.5 306.7 L455.3 305.6 L453.3 305.3 L450.8 306.7 L448.4 307.3 L447.2 307.8 L445.6 307.5 L444.4 306.1 L444.4 309.1 L442.7 308.1 L441.2 306.4 L440.5 309.7 L439.5 308.0 L438.4 305.8 L438.3 304.3 L439.4 304.8 L439.8 303.1 L440.9 301.2 L442.8 298.2 L442.5 296.9 L441.4 295.6 L441.1 293.4 L441.9 291.3 L444.5 292.1 L443.3 290.9 L441.8 289.9 L440.8 291.3 L439.7 292.6 L438.4 293.0 L436.8 292.2 L436.0 295.9 L435.5 298.7 L433.6 300.1 L433.9 297.9 L434.8 294.5 L435.1 292.0 L435.7 289.6 L435.7 286.8 L436.6 284.6 L437.3 282.7 L439.0 280.4 L437.1 281.7 L434.8 283.0 L432.9 281.8 L431.3 280.3 L434.2 278.3 L434.5 276.3 L436.3 275.0 L435.3 273.5 L435.6 272.4 L434.9 270.0 L436.3 268.7 L435.3 266.1 L435.3 264.4 L436.7 264.6 L438.7 263.6 L438.4 261.8 L439.7 260.4 L438.9 258.9 L440.6 257.7 L441.4 256.2ZM432.6 254.9 L432.9 257.3 L431.6 259.3 L431.1 262.0 L429.1 263.6 L426.7 265.2 L425.6 265.6 L425.7 263.8 L426.3 261.7 L426.1 259.6 L428.0 258.3 L430.3 256.4ZM424.8 266.1 L425.5 267.3 L423.8 269.2 L423.9 272.7 L423.4 274.8 L422.1 276.1 L421.4 276.1 L422.3 274.0 L422.7 271.3 L422.7 268.4 L422.5 266.3ZM431.6 266.3 L432.9 268.5 L432.4 270.5 L435.3 272.4 L434.9 273.5 L433.6 275.5 L432.6 274.0 L431.1 273.3 L430.1 271.5 L427.9 269.5 L429.2 268.2 L430.4 267.3ZM432.2 281.0 L434.8 282.3 L435.7 284.0 L435.2 285.7 L431.8 286.3 L429.6 285.5 L430.8 284.2 L430.1 283.0 L430.6 281.6ZM431.4 291.2 L431.9 292.2 L431.3 295.0 L429.7 295.2 L428.2 294.1 L428.8 292.0ZM434.5 288.2 L434.0 290.2 L432.7 292.3 L431.9 291.5 L432.8 289.5ZM438.1 294.4 L439.3 296.8 L438.9 298.4 L437.4 298.1 L436.8 296.0ZM454.0 247.6 L456.9 248.4 L458.6 249.8 L456.5 250.5 L455.0 252.1 L453.5 251.8 L454.0 249.7ZM456.9 244.2 L459.4 244.9 L458.7 247.0 L456.5 246.3ZM444.1 326.7 L446.6 328.5 L444.4 330.5 L442.3 329.8 L441.1 328.3ZM425.5 282.7 L427.1 282.4 L427.2 283.1 L425.8 283.4ZM429.5 280.4 L429.1 281.2 L427.9 281.9 L428.1 281.2ZM431.0 275.6 L431.5 276.1 L430.9 276.7 L430.2 276.3ZM432.2 277.2 L432.4 277.8 L431.7 278.1 L431.6 277.5ZM433.5 268.9 L433.3 271.3 L432.8 271.1 L432.8 269.9ZM439.4 291.9 L440.1 294.0 L439.3 294.1 L439.0 292.6ZM431.1 288.5 L430.9 289.6 L430.4 289.5 L430.4 288.8ZM469.9 364.0 L471.9 365.0 L470.4 366.7 L467.4 365.4 L468.1 364.5Z"/></clipPath><radialGradient id="r10_0"><stop offset="0" stop-color="#AE9066" stop-opacity="0.40"/><stop offset="0.5" stop-color="#AE9066" stop-opacity="0.28"/><stop offset="1" stop-color="#AE9066" stop-opacity="0"/></radialGradient></defs>
<g clip-path="url(#c10)"><rect x="412" y="238" width="90" height="140" fill="url(#g10)"/><path d="M441.8 290.6 L446.6 286.6 L452.1 282.5 L459.1 279.1 L458.4 275.6 L456.1 272.8 L453.2 270.7 L447.9 269.8 L445.1 265.6 L447.4 261.4 L449.7 258.7 L449.1 256.6 L445.4 255.8 L441.8 255.6 L439.4 259.7 L437.6 265.2 L436.6 270.8 L436.3 276.4 L436.0 280.5 L438.1 284.8 L440.3 289.1ZM441.3 303.2 L446.2 299.1 L451.9 295.1 L457.4 294.5 L461.3 296.6 L461.3 300.1 L455.7 302.2 L449.3 304.8 L443.6 305.3ZM458.9 304.3 L462.1 305.0 L463.7 312.0 L464.5 319.0 L465.4 324.6 L466.2 330.1 L464.1 331.5 L462.9 325.9 L460.8 319.0 L459.6 312.0ZM453.2 309.8 L457.2 310.6 L456.8 314.0 L453.9 314.7 L452.3 312.6ZM470.2 312.0 L474.3 312.6 L473.5 314.7 L470.2 314.7ZM446.1 330.6 L449.5 330.0 L451.9 334.2 L450.9 339.8 L453.4 346.8 L452.5 349.6 L447.3 349.5 L446.5 343.9 L447.6 338.3 L446.8 334.1ZM446.0 365.5 L447.7 364.8 L448.1 367.6 L446.3 368.3ZM447.0 357.8 L450.5 358.6 L449.6 360.0 L447.0 359.2Z" fill="#AC7E62" fill-opacity="0.55" filter="url(#bl2)"/><path d="M443.7 282.3 L451.4 280.4 L454.6 277.0 L452.3 274.2 L447.0 274.0 L440.9 275.2 L439.2 279.3Z" fill="#A8745E" fill-opacity="0.60" filter="url(#bl3)"/><ellipse cx="430.0" cy="275.0" rx="12.8" ry="22.4" fill="url(#r10_0)"/></g>
<rect x="601.00" y="205.00" width="84" height="21.9" fill="#E0402E"/>
<text x="643.20" y="220.10" font-size="11.40" text-anchor="middle" fill="#fff" font-weight="normal" >RCP8.5−SSP2</text>
<g fill="#000"><path d="M618.16 238.62 C615.20 236.22 611.20 233.82 608.32 233.82 C606.72 233.82 606.88 237.10 607.68 239.26 C608.08 240.38 609.12 241.02 609.92 241.34 C609.12 242.46 608.96 244.70 610.24 246.30 C611.68 247.66 614.40 247.58 615.68 246.46 C616.96 245.34 617.76 243.26 618.16 241.50 Z"/><path d="M618.64 238.62 C621.60 236.22 625.60 233.82 628.48 233.82 C630.08 233.82 629.92 237.10 629.12 239.26 C628.72 240.38 627.68 241.02 626.88 241.34 C627.68 242.46 627.84 244.70 626.56 246.30 C625.12 247.66 622.40 247.58 621.12 246.46 C619.84 245.34 619.04 243.26 618.64 241.50 Z"/><rect x="617.84" y="238.30" width="1.12" height="8.00" rx="0.56"/><path d="M618.08 238.70 L616.00 234.46 M618.72 238.70 L620.80 234.46" stroke="#000" stroke-width="0.44" fill="none"/></g>
<defs><linearGradient id="g11" gradientUnits="userSpaceOnUse" x1="0" y1="244.0" x2="0" y2="375.0"><stop offset="0.000" stop-color="#B09C6A"/><stop offset="0.260" stop-color="#B09C6A"/><stop offset="0.427" stop-color="#B2A272"/><stop offset="0.580" stop-color="#BCB28A"/><stop offset="0.756" stop-color="#C4BEA0"/><stop offset="1.000" stop-color="#C8C2A8"/></linearGradient><clipPath id="c11"><path d="M626.8 254.0 L627.9 254.8 L628.6 254.3 L629.1 255.7 L630.1 255.1 L631.0 255.4 L632.3 254.7 L634.1 254.8 L635.9 254.8 L637.6 254.5 L638.7 253.6 L640.7 254.1 L641.2 254.0 L640.8 256.9 L639.3 258.8 L636.5 261.3 L634.2 263.6 L633.4 264.5 L635.4 264.9 L633.7 267.1 L631.4 269.1 L632.2 269.8 L634.5 268.5 L637.9 267.2 L641.2 267.5 L645.0 267.6 L648.7 267.3 L650.4 270.4 L648.2 275.0 L647.2 277.6 L645.2 281.3 L644.2 283.3 L642.7 284.6 L640.2 285.1 L641.9 284.7 L643.3 286.5 L644.2 287.3 L642.1 288.5 L639.3 289.6 L635.8 290.2 L638.5 291.1 L642.8 290.2 L645.2 291.3 L647.6 292.2 L648.7 294.3 L651.0 296.5 L652.2 300.1 L653.4 304.7 L655.3 309.2 L656.0 310.3 L657.2 310.9 L660.0 312.0 L661.9 314.9 L664.4 317.1 L663.7 319.5 L665.7 322.2 L666.2 324.6 L662.4 323.0 L664.9 325.0 L666.9 327.1 L668.3 330.7 L666.0 332.7 L667.7 335.4 L669.7 333.3 L674.0 332.8 L676.5 333.3 L678.7 335.0 L680.5 337.7 L680.7 339.4 L680.1 341.9 L679.5 345.0 L677.6 346.9 L677.0 348.2 L676.0 349.4 L673.8 349.9 L672.1 350.6 L674.3 352.0 L672.4 353.0 L669.2 353.8 L670.9 354.2 L672.8 354.3 L675.1 355.3 L678.2 354.7 L678.8 355.0 L678.5 357.1 L678.1 358.4 L676.6 359.1 L675.0 361.6 L671.4 362.5 L668.5 364.3 L665.1 363.2 L662.4 363.4 L659.4 364.7 L657.1 363.6 L654.2 362.5 L654.5 364.0 L652.7 364.5 L650.6 364.9 L649.1 365.0 L649.1 366.4 L648.2 366.7 L646.0 366.1 L644.7 367.7 L644.3 366.1 L640.5 364.7 L637.6 365.1 L636.2 366.2 L635.1 368.2 L634.6 369.8 L634.0 371.6 L632.2 370.7 L629.8 369.9 L628.9 370.2 L626.4 369.8 L623.6 371.3 L621.4 372.1 L619.9 374.7 L619.1 372.7 L616.9 372.7 L615.9 373.4 L615.3 373.0 L615.7 371.8 L617.5 371.1 L620.1 369.7 L621.2 368.4 L621.8 366.6 L624.3 365.0 L626.2 362.8 L626.4 360.2 L628.9 360.3 L628.9 358.6 L630.1 357.6 L632.5 357.4 L635.8 357.8 L639.1 358.0 L640.1 355.9 L642.6 353.8 L644.8 351.1 L642.6 352.4 L640.2 353.1 L638.5 354.3 L637.5 355.3 L635.2 355.1 L633.9 354.0 L632.2 352.3 L631.3 352.7 L628.7 352.7 L629.6 351.5 L627.9 350.7 L625.3 351.1 L623.3 352.0 L621.1 350.8 L620.5 350.0 L621.9 349.1 L620.2 347.9 L620.1 347.6 L622.3 345.9 L625.5 345.1 L628.5 343.6 L630.9 340.9 L631.3 339.0 L631.2 336.6 L630.8 334.1 L628.3 334.3 L627.6 335.4 L625.3 335.4 L627.2 333.5 L629.0 331.2 L629.6 330.5 L630.9 329.5 L633.2 328.1 L636.2 328.3 L637.7 327.9 L639.9 329.8 L638.9 327.4 L639.9 326.9 L641.6 328.0 L640.1 326.6 L639.6 325.0 L640.3 323.8 L641.7 322.8 L639.9 321.4 L640.3 319.9 L641.7 318.2 L641.7 316.1 L640.1 317.5 L638.4 318.2 L638.5 316.1 L637.1 314.0 L635.4 311.7 L636.0 309.9 L637.5 306.7 L640.3 305.6 L638.3 305.3 L635.8 306.7 L633.4 307.3 L632.2 307.8 L630.6 307.5 L629.4 306.1 L629.4 309.1 L627.7 308.1 L626.2 306.4 L625.5 309.7 L624.5 308.0 L623.4 305.8 L623.3 304.3 L624.4 304.8 L624.8 303.1 L625.9 301.2 L627.8 298.2 L627.5 296.9 L626.4 295.6 L626.1 293.4 L626.9 291.3 L629.5 292.1 L628.3 290.9 L626.8 289.9 L625.8 291.3 L624.7 292.6 L623.4 293.0 L621.8 292.2 L621.0 295.9 L620.5 298.7 L618.6 300.1 L618.9 297.9 L619.8 294.5 L620.1 292.0 L620.7 289.6 L620.7 286.8 L621.6 284.6 L622.3 282.7 L624.0 280.4 L622.1 281.7 L619.8 283.0 L617.9 281.8 L616.3 280.3 L619.2 278.3 L619.5 276.3 L621.3 275.0 L620.3 273.5 L620.6 272.4 L619.9 270.0 L621.3 268.7 L620.3 266.1 L620.3 264.4 L621.7 264.6 L623.7 263.6 L623.4 261.8 L624.7 260.4 L623.9 258.9 L625.6 257.7 L626.4 256.2ZM617.6 254.9 L617.9 257.3 L616.6 259.3 L616.1 262.0 L614.1 263.6 L611.7 265.2 L610.6 265.6 L610.7 263.8 L611.3 261.7 L611.1 259.6 L613.0 258.3 L615.3 256.4ZM609.8 266.1 L610.5 267.3 L608.8 269.2 L608.9 272.7 L608.4 274.8 L607.1 276.1 L606.4 276.1 L607.3 274.0 L607.7 271.3 L607.7 268.4 L607.5 266.3ZM616.6 266.3 L617.9 268.5 L617.4 270.5 L620.3 272.4 L619.9 273.5 L618.6 275.5 L617.6 274.0 L616.1 273.3 L615.1 271.5 L612.9 269.5 L614.2 268.2 L615.4 267.3ZM617.2 281.0 L619.8 282.3 L620.7 284.0 L620.2 285.7 L616.8 286.3 L614.6 285.5 L615.8 284.2 L615.1 283.0 L615.6 281.6ZM616.4 291.2 L616.9 292.2 L616.3 295.0 L614.7 295.2 L613.2 294.1 L613.8 292.0ZM619.5 288.2 L619.0 290.2 L617.7 292.3 L616.9 291.5 L617.8 289.5ZM623.1 294.4 L624.3 296.8 L623.9 298.4 L622.4 298.1 L621.8 296.0ZM639.0 247.6 L641.9 248.4 L643.6 249.8 L641.5 250.5 L640.0 252.1 L638.5 251.8 L639.0 249.7ZM641.9 244.2 L644.4 244.9 L643.7 247.0 L641.5 246.3ZM629.1 326.7 L631.6 328.5 L629.4 330.5 L627.3 329.8 L626.1 328.3ZM610.5 282.7 L612.1 282.4 L612.2 283.1 L610.8 283.4ZM614.5 280.4 L614.1 281.2 L612.9 281.9 L613.1 281.2ZM616.0 275.6 L616.5 276.1 L615.9 276.7 L615.2 276.3ZM617.2 277.2 L617.4 277.8 L616.7 278.1 L616.6 277.5ZM618.5 268.9 L618.3 271.3 L617.8 271.1 L617.8 269.9ZM624.4 291.9 L625.1 294.0 L624.3 294.1 L624.0 292.6ZM616.1 288.5 L615.9 289.6 L615.4 289.5 L615.4 288.8ZM654.9 364.0 L656.9 365.0 L655.4 366.7 L652.4 365.4 L653.1 364.5Z"/></clipPath></defs>
<g clip-path="url(#c11)"><rect x="597" y="238" width="90" height="140" fill="url(#g11)"/><path d="M626.8 290.6 L631.6 286.6 L637.1 282.5 L644.1 279.1 L643.4 275.6 L641.1 272.8 L638.2 270.7 L632.9 269.8 L630.1 265.6 L632.4 261.4 L634.7 258.7 L634.1 256.6 L630.4 255.8 L626.8 255.6 L624.4 259.7 L622.6 265.2 L621.6 270.8 L621.3 276.4 L621.0 280.5 L623.1 284.8 L625.3 289.1ZM626.3 303.2 L631.2 299.1 L636.9 295.1 L642.4 294.5 L646.3 296.6 L646.3 300.1 L640.7 302.2 L634.3 304.8 L628.6 305.3ZM643.9 304.3 L647.1 305.0 L648.7 312.0 L649.5 319.0 L650.4 324.6 L651.2 330.1 L649.1 331.5 L647.9 325.9 L645.8 319.0 L644.6 312.0ZM638.2 309.8 L642.2 310.6 L641.8 314.0 L638.9 314.7 L637.3 312.6ZM655.2 312.0 L659.3 312.6 L658.5 314.7 L655.2 314.7ZM631.1 330.6 L634.5 330.0 L636.9 334.2 L635.9 339.8 L638.4 346.8 L637.5 349.6 L632.3 349.5 L631.5 343.9 L632.6 338.3 L631.8 334.1ZM631.0 365.5 L632.7 364.8 L633.1 367.6 L631.3 368.3ZM632.0 357.8 L635.5 358.6 L634.6 360.0 L632.0 359.2Z" fill="#AE9666" fill-opacity="0.60" filter="url(#bl2)"/><path d="M628.7 282.3 L636.4 280.4 L639.6 277.0 L637.3 274.2 L632.0 274.0 L625.9 275.2 L624.2 279.3ZM623.8 272.3 L626.2 268.2 L627.2 262.6 L626.6 259.8 L624.2 263.9 L623.1 269.4Z" fill="#AC8C60" fill-opacity="0.60" filter="url(#bl3)"/></g>
<rect x="416.00" y="383.00" width="84" height="21.9" fill="#A50026"/>
<text x="458.20" y="398.10" font-size="11.40" text-anchor="middle" fill="#fff" font-weight="normal" >RCP8.5−SSP5</text>
<path d="M433.30 411.92 L434.34 414.32 C435.70 413.84 438.10 412.72 440.66 412.72 C443.70 412.72 446.26 414.00 447.70 415.52 C448.74 416.64 449.30 417.68 449.06 418.24 C446.90 418.72 443.70 418.64 440.50 419.28 C438.10 419.76 436.50 420.08 434.98 420.32 L435.30 424.56 C434.74 425.68 432.02 425.76 431.22 424.72 L431.62 420.32 C430.10 420.08 428.50 419.76 426.10 419.28 C422.90 418.64 419.70 418.72 417.62 418.24 C417.54 417.36 418.58 416.08 419.70 415.28 C421.62 413.68 424.02 412.72 426.42 412.72 C428.82 412.72 430.90 413.84 432.26 414.32 Z" fill="#000"/>
<defs><linearGradient id="g20" gradientUnits="userSpaceOnUse" x1="0" y1="422.0" x2="0" y2="553.0"><stop offset="0.000" stop-color="#A27062"/><stop offset="0.260" stop-color="#A67862"/><stop offset="0.427" stop-color="#AC8E68"/><stop offset="0.580" stop-color="#B29C6A"/><stop offset="0.756" stop-color="#B4A06A"/><stop offset="1.000" stop-color="#B4A26C"/></linearGradient><clipPath id="c20"><path d="M441.8 432.0 L442.9 432.8 L443.6 432.3 L444.1 433.7 L445.1 433.1 L446.0 433.4 L447.3 432.7 L449.1 432.8 L450.9 432.8 L452.6 432.5 L453.7 431.6 L455.7 432.1 L456.2 432.0 L455.8 434.9 L454.3 436.8 L451.5 439.3 L449.2 441.6 L448.4 442.5 L450.4 442.9 L448.7 445.1 L446.4 447.1 L447.2 447.8 L449.5 446.5 L452.9 445.2 L456.2 445.5 L460.0 445.6 L463.7 445.3 L465.4 448.4 L463.2 453.0 L462.2 455.6 L460.2 459.3 L459.2 461.3 L457.7 462.6 L455.2 463.1 L456.9 462.7 L458.3 464.5 L459.2 465.3 L457.1 466.5 L454.3 467.6 L450.8 468.2 L453.5 469.1 L457.8 468.2 L460.2 469.3 L462.6 470.2 L463.7 472.3 L466.0 474.5 L467.2 478.1 L468.4 482.7 L470.3 487.2 L471.0 488.3 L472.2 488.9 L475.0 490.0 L476.9 492.9 L479.4 495.1 L478.7 497.5 L480.7 500.2 L481.2 502.6 L477.4 501.0 L479.9 503.0 L481.9 505.1 L483.3 508.7 L481.0 510.7 L482.7 513.4 L484.7 511.3 L489.0 510.8 L491.5 511.3 L493.7 513.0 L495.5 515.7 L495.7 517.4 L495.1 519.9 L494.5 523.0 L492.6 524.9 L492.0 526.2 L491.0 527.4 L488.8 527.9 L487.1 528.6 L489.3 530.0 L487.4 531.0 L484.2 531.8 L485.9 532.2 L487.8 532.3 L490.1 533.3 L493.2 532.7 L493.8 533.0 L493.5 535.1 L493.1 536.4 L491.6 537.1 L490.0 539.6 L486.4 540.5 L483.5 542.3 L480.1 541.2 L477.4 541.4 L474.4 542.7 L472.1 541.6 L469.2 540.5 L469.5 542.0 L467.7 542.5 L465.6 542.9 L464.1 543.0 L464.1 544.4 L463.2 544.7 L461.0 544.1 L459.7 545.7 L459.3 544.1 L455.5 542.7 L452.6 543.1 L451.2 544.2 L450.1 546.2 L449.6 547.8 L449.0 549.6 L447.2 548.7 L444.8 547.9 L443.9 548.2 L441.4 547.8 L438.6 549.3 L436.4 550.1 L434.9 552.7 L434.1 550.7 L431.9 550.7 L430.9 551.4 L430.3 551.0 L430.7 549.8 L432.5 549.1 L435.1 547.7 L436.2 546.4 L436.8 544.6 L439.3 543.0 L441.2 540.8 L441.4 538.2 L443.9 538.3 L443.9 536.6 L445.1 535.6 L447.5 535.4 L450.8 535.8 L454.1 536.0 L455.1 533.9 L457.6 531.8 L459.8 529.1 L457.6 530.4 L455.2 531.1 L453.5 532.3 L452.5 533.3 L450.2 533.1 L448.9 532.0 L447.2 530.3 L446.3 530.7 L443.7 530.7 L444.6 529.5 L442.9 528.7 L440.3 529.1 L438.3 530.0 L436.1 528.8 L435.5 528.0 L436.9 527.1 L435.2 525.9 L435.1 525.6 L437.3 523.9 L440.5 523.1 L443.5 521.6 L445.9 518.9 L446.3 517.0 L446.2 514.6 L445.8 512.1 L443.3 512.3 L442.6 513.4 L440.3 513.4 L442.2 511.5 L444.0 509.2 L444.6 508.5 L445.9 507.5 L448.2 506.1 L451.2 506.3 L452.7 505.9 L454.9 507.8 L453.9 505.4 L454.9 504.9 L456.6 506.0 L455.1 504.6 L454.6 503.0 L455.3 501.8 L456.7 500.8 L454.9 499.4 L455.3 497.9 L456.7 496.2 L456.7 494.1 L455.1 495.5 L453.4 496.2 L453.5 494.1 L452.1 492.0 L450.4 489.7 L451.0 487.9 L452.5 484.7 L455.3 483.6 L453.3 483.3 L450.8 484.7 L448.4 485.3 L447.2 485.8 L445.6 485.5 L444.4 484.1 L444.4 487.1 L442.7 486.1 L441.2 484.4 L440.5 487.7 L439.5 486.0 L438.4 483.8 L438.3 482.3 L439.4 482.8 L439.8 481.1 L440.9 479.2 L442.8 476.2 L442.5 474.9 L441.4 473.6 L441.1 471.4 L441.9 469.3 L444.5 470.1 L443.3 468.9 L441.8 467.9 L440.8 469.3 L439.7 470.6 L438.4 471.0 L436.8 470.2 L436.0 473.9 L435.5 476.7 L433.6 478.1 L433.9 475.9 L434.8 472.5 L435.1 470.0 L435.7 467.6 L435.7 464.8 L436.6 462.6 L437.3 460.7 L439.0 458.4 L437.1 459.7 L434.8 461.0 L432.9 459.8 L431.3 458.3 L434.2 456.3 L434.5 454.3 L436.3 453.0 L435.3 451.5 L435.6 450.4 L434.9 448.0 L436.3 446.7 L435.3 444.1 L435.3 442.4 L436.7 442.6 L438.7 441.6 L438.4 439.8 L439.7 438.4 L438.9 436.9 L440.6 435.7 L441.4 434.2ZM432.6 432.9 L432.9 435.3 L431.6 437.3 L431.1 440.0 L429.1 441.6 L426.7 443.2 L425.6 443.6 L425.7 441.8 L426.3 439.7 L426.1 437.6 L428.0 436.3 L430.3 434.4ZM424.8 444.1 L425.5 445.3 L423.8 447.2 L423.9 450.7 L423.4 452.8 L422.1 454.1 L421.4 454.1 L422.3 452.0 L422.7 449.3 L422.7 446.4 L422.5 444.3ZM431.6 444.3 L432.9 446.5 L432.4 448.5 L435.3 450.4 L434.9 451.5 L433.6 453.5 L432.6 452.0 L431.1 451.3 L430.1 449.5 L427.9 447.5 L429.2 446.2 L430.4 445.3ZM432.2 459.0 L434.8 460.3 L435.7 462.0 L435.2 463.7 L431.8 464.3 L429.6 463.5 L430.8 462.2 L430.1 461.0 L430.6 459.6ZM431.4 469.2 L431.9 470.2 L431.3 473.0 L429.7 473.2 L428.2 472.1 L428.8 470.0ZM434.5 466.2 L434.0 468.2 L432.7 470.3 L431.9 469.5 L432.8 467.5ZM438.1 472.4 L439.3 474.8 L438.9 476.4 L437.4 476.1 L436.8 474.0ZM454.0 425.6 L456.9 426.4 L458.6 427.8 L456.5 428.5 L455.0 430.1 L453.5 429.8 L454.0 427.7ZM456.9 422.2 L459.4 422.9 L458.7 425.0 L456.5 424.3ZM444.1 504.7 L446.6 506.5 L444.4 508.5 L442.3 507.8 L441.1 506.3ZM425.5 460.7 L427.1 460.4 L427.2 461.1 L425.8 461.4ZM429.5 458.4 L429.1 459.2 L427.9 459.9 L428.1 459.2ZM431.0 453.6 L431.5 454.1 L430.9 454.7 L430.2 454.3ZM432.2 455.2 L432.4 455.8 L431.7 456.1 L431.6 455.5ZM433.5 446.9 L433.3 449.3 L432.8 449.1 L432.8 447.9ZM439.4 469.9 L440.1 472.0 L439.3 472.1 L439.0 470.6ZM431.1 466.5 L430.9 467.6 L430.4 467.5 L430.4 466.8ZM469.9 542.0 L471.9 543.0 L470.4 544.7 L467.4 543.4 L468.1 542.5Z"/></clipPath><radialGradient id="r20_0"><stop offset="0" stop-color="#A88062" stop-opacity="0.40"/><stop offset="0.5" stop-color="#A88062" stop-opacity="0.28"/><stop offset="1" stop-color="#A88062" stop-opacity="0"/></radialGradient></defs>
<g clip-path="url(#c20)"><rect x="412" y="416" width="90" height="140" fill="url(#g20)"/><path d="M441.8 468.6 L446.6 464.6 L452.1 460.5 L459.1 457.1 L458.4 453.6 L456.1 450.8 L453.2 448.7 L447.9 447.8 L445.1 443.6 L447.4 439.4 L449.7 436.7 L449.1 434.6 L445.4 433.8 L441.8 433.6 L439.4 437.7 L437.6 443.2 L436.6 448.8 L436.3 454.4 L436.0 458.5 L438.1 462.8 L440.3 467.1ZM441.3 481.2 L446.2 477.1 L451.9 473.1 L457.4 472.5 L461.3 474.6 L461.3 478.1 L455.7 480.2 L449.3 482.8 L443.6 483.3ZM458.9 482.3 L462.1 483.0 L463.7 490.0 L464.5 497.0 L465.4 502.6 L466.2 508.1 L464.1 509.5 L462.9 503.9 L460.8 497.0 L459.6 490.0ZM453.2 487.8 L457.2 488.6 L456.8 492.0 L453.9 492.7 L452.3 490.6ZM470.2 490.0 L474.3 490.6 L473.5 492.7 L470.2 492.7ZM446.0 543.5 L447.7 542.8 L448.1 545.6 L446.3 546.3ZM447.0 535.8 L450.5 536.6 L449.6 538.0 L447.0 537.2Z" fill="#A06A60" fill-opacity="0.85" filter="url(#bl1)"/><path d="M446.1 508.6 L449.5 508.0 L451.9 512.2 L450.9 517.8 L453.4 524.8 L452.5 527.6 L447.3 527.5 L446.5 521.9 L447.6 516.3 L446.8 512.1Z" fill="#A88062" fill-opacity="0.60" filter="url(#bl1)"/><path d="M443.7 460.3 L451.4 458.4 L454.6 455.0 L452.3 452.2 L447.0 452.0 L440.9 453.2 L439.2 457.3ZM438.8 450.3 L441.2 446.2 L442.2 440.6 L441.6 437.8 L439.2 441.9 L438.1 447.4Z" fill="#96505A" fill-opacity="0.65" filter="url(#bl3)"/><path d="M458.9 482.3 L462.1 483.0 L463.7 490.0 L464.5 497.0 L465.4 502.6 L466.2 508.1 L464.1 509.5 L462.9 503.9 L460.8 497.0 L459.6 490.0ZM453.2 487.8 L457.2 488.6 L456.8 492.0 L453.9 492.7 L452.3 490.6ZM441.3 481.2 L446.2 477.1 L451.9 473.1 L457.4 472.5 L461.3 474.6 L461.3 478.1 L455.7 480.2 L449.3 482.8 L443.6 483.3Z" fill="#9C5E5C" fill-opacity="0.40" filter="url(#bl0)"/><ellipse cx="430.0" cy="453.0" rx="12.8" ry="22.4" fill="url(#r20_0)"/></g>
<rect x="601.00" y="383.00" width="84" height="21.9" fill="#6FA8D4"/>
<text x="643.20" y="398.10" font-size="11.40" text-anchor="middle" fill="#fff" font-weight="normal" >RCP4.5−SSP2</text>
<path d="M618.30 411.92 L619.34 414.32 C620.70 413.84 623.10 412.72 625.66 412.72 C628.70 412.72 631.26 414.00 632.70 415.52 C633.74 416.64 634.30 417.68 634.06 418.24 C631.90 418.72 628.70 418.64 625.50 419.28 C623.10 419.76 621.50 420.08 619.98 420.32 L620.30 424.56 C619.74 425.68 617.02 425.76 616.22 424.72 L616.62 420.32 C615.10 420.08 613.50 419.76 611.10 419.28 C607.90 418.64 604.70 418.72 602.62 418.24 C602.54 417.36 603.58 416.08 604.70 415.28 C606.62 413.68 609.02 412.72 611.42 412.72 C613.82 412.72 615.90 413.84 617.26 414.32 Z" fill="#000"/>
<defs><linearGradient id="g21" gradientUnits="userSpaceOnUse" x1="0" y1="422.0" x2="0" y2="553.0"><stop offset="0.000" stop-color="#B2A070"/><stop offset="0.260" stop-color="#B4A474"/><stop offset="0.427" stop-color="#BAAE84"/><stop offset="0.580" stop-color="#C2BC9E"/><stop offset="0.756" stop-color="#C6C2A6"/><stop offset="1.000" stop-color="#C8C4AA"/></linearGradient><clipPath id="c21"><path d="M626.8 432.0 L627.9 432.8 L628.6 432.3 L629.1 433.7 L630.1 433.1 L631.0 433.4 L632.3 432.7 L634.1 432.8 L635.9 432.8 L637.6 432.5 L638.7 431.6 L640.7 432.1 L641.2 432.0 L640.8 434.9 L639.3 436.8 L636.5 439.3 L634.2 441.6 L633.4 442.5 L635.4 442.9 L633.7 445.1 L631.4 447.1 L632.2 447.8 L634.5 446.5 L637.9 445.2 L641.2 445.5 L645.0 445.6 L648.7 445.3 L650.4 448.4 L648.2 453.0 L647.2 455.6 L645.2 459.3 L644.2 461.3 L642.7 462.6 L640.2 463.1 L641.9 462.7 L643.3 464.5 L644.2 465.3 L642.1 466.5 L639.3 467.6 L635.8 468.2 L638.5 469.1 L642.8 468.2 L645.2 469.3 L647.6 470.2 L648.7 472.3 L651.0 474.5 L652.2 478.1 L653.4 482.7 L655.3 487.2 L656.0 488.3 L657.2 488.9 L660.0 490.0 L661.9 492.9 L664.4 495.1 L663.7 497.5 L665.7 500.2 L666.2 502.6 L662.4 501.0 L664.9 503.0 L666.9 505.1 L668.3 508.7 L666.0 510.7 L667.7 513.4 L669.7 511.3 L674.0 510.8 L676.5 511.3 L678.7 513.0 L680.5 515.7 L680.7 517.4 L680.1 519.9 L679.5 523.0 L677.6 524.9 L677.0 526.2 L676.0 527.4 L673.8 527.9 L672.1 528.6 L674.3 530.0 L672.4 531.0 L669.2 531.8 L670.9 532.2 L672.8 532.3 L675.1 533.3 L678.2 532.7 L678.8 533.0 L678.5 535.1 L678.1 536.4 L676.6 537.1 L675.0 539.6 L671.4 540.5 L668.5 542.3 L665.1 541.2 L662.4 541.4 L659.4 542.7 L657.1 541.6 L654.2 540.5 L654.5 542.0 L652.7 542.5 L650.6 542.9 L649.1 543.0 L649.1 544.4 L648.2 544.7 L646.0 544.1 L644.7 545.7 L644.3 544.1 L640.5 542.7 L637.6 543.1 L636.2 544.2 L635.1 546.2 L634.6 547.8 L634.0 549.6 L632.2 548.7 L629.8 547.9 L628.9 548.2 L626.4 547.8 L623.6 549.3 L621.4 550.1 L619.9 552.7 L619.1 550.7 L616.9 550.7 L615.9 551.4 L615.3 551.0 L615.7 549.8 L617.5 549.1 L620.1 547.7 L621.2 546.4 L621.8 544.6 L624.3 543.0 L626.2 540.8 L626.4 538.2 L628.9 538.3 L628.9 536.6 L630.1 535.6 L632.5 535.4 L635.8 535.8 L639.1 536.0 L640.1 533.9 L642.6 531.8 L644.8 529.1 L642.6 530.4 L640.2 531.1 L638.5 532.3 L637.5 533.3 L635.2 533.1 L633.9 532.0 L632.2 530.3 L631.3 530.7 L628.7 530.7 L629.6 529.5 L627.9 528.7 L625.3 529.1 L623.3 530.0 L621.1 528.8 L620.5 528.0 L621.9 527.1 L620.2 525.9 L620.1 525.6 L622.3 523.9 L625.5 523.1 L628.5 521.6 L630.9 518.9 L631.3 517.0 L631.2 514.6 L630.8 512.1 L628.3 512.3 L627.6 513.4 L625.3 513.4 L627.2 511.5 L629.0 509.2 L629.6 508.5 L630.9 507.5 L633.2 506.1 L636.2 506.3 L637.7 505.9 L639.9 507.8 L638.9 505.4 L639.9 504.9 L641.6 506.0 L640.1 504.6 L639.6 503.0 L640.3 501.8 L641.7 500.8 L639.9 499.4 L640.3 497.9 L641.7 496.2 L641.7 494.1 L640.1 495.5 L638.4 496.2 L638.5 494.1 L637.1 492.0 L635.4 489.7 L636.0 487.9 L637.5 484.7 L640.3 483.6 L638.3 483.3 L635.8 484.7 L633.4 485.3 L632.2 485.8 L630.6 485.5 L629.4 484.1 L629.4 487.1 L627.7 486.1 L626.2 484.4 L625.5 487.7 L624.5 486.0 L623.4 483.8 L623.3 482.3 L624.4 482.8 L624.8 481.1 L625.9 479.2 L627.8 476.2 L627.5 474.9 L626.4 473.6 L626.1 471.4 L626.9 469.3 L629.5 470.1 L628.3 468.9 L626.8 467.9 L625.8 469.3 L624.7 470.6 L623.4 471.0 L621.8 470.2 L621.0 473.9 L620.5 476.7 L618.6 478.1 L618.9 475.9 L619.8 472.5 L620.1 470.0 L620.7 467.6 L620.7 464.8 L621.6 462.6 L622.3 460.7 L624.0 458.4 L622.1 459.7 L619.8 461.0 L617.9 459.8 L616.3 458.3 L619.2 456.3 L619.5 454.3 L621.3 453.0 L620.3 451.5 L620.6 450.4 L619.9 448.0 L621.3 446.7 L620.3 444.1 L620.3 442.4 L621.7 442.6 L623.7 441.6 L623.4 439.8 L624.7 438.4 L623.9 436.9 L625.6 435.7 L626.4 434.2ZM617.6 432.9 L617.9 435.3 L616.6 437.3 L616.1 440.0 L614.1 441.6 L611.7 443.2 L610.6 443.6 L610.7 441.8 L611.3 439.7 L611.1 437.6 L613.0 436.3 L615.3 434.4ZM609.8 444.1 L610.5 445.3 L608.8 447.2 L608.9 450.7 L608.4 452.8 L607.1 454.1 L606.4 454.1 L607.3 452.0 L607.7 449.3 L607.7 446.4 L607.5 444.3ZM616.6 444.3 L617.9 446.5 L617.4 448.5 L620.3 450.4 L619.9 451.5 L618.6 453.5 L617.6 452.0 L616.1 451.3 L615.1 449.5 L612.9 447.5 L614.2 446.2 L615.4 445.3ZM617.2 459.0 L619.8 460.3 L620.7 462.0 L620.2 463.7 L616.8 464.3 L614.6 463.5 L615.8 462.2 L615.1 461.0 L615.6 459.6ZM616.4 469.2 L616.9 470.2 L616.3 473.0 L614.7 473.2 L613.2 472.1 L613.8 470.0ZM619.5 466.2 L619.0 468.2 L617.7 470.3 L616.9 469.5 L617.8 467.5ZM623.1 472.4 L624.3 474.8 L623.9 476.4 L622.4 476.1 L621.8 474.0ZM639.0 425.6 L641.9 426.4 L643.6 427.8 L641.5 428.5 L640.0 430.1 L638.5 429.8 L639.0 427.7ZM641.9 422.2 L644.4 422.9 L643.7 425.0 L641.5 424.3ZM629.1 504.7 L631.6 506.5 L629.4 508.5 L627.3 507.8 L626.1 506.3ZM610.5 460.7 L612.1 460.4 L612.2 461.1 L610.8 461.4ZM614.5 458.4 L614.1 459.2 L612.9 459.9 L613.1 459.2ZM616.0 453.6 L616.5 454.1 L615.9 454.7 L615.2 454.3ZM617.2 455.2 L617.4 455.8 L616.7 456.1 L616.6 455.5ZM618.5 446.9 L618.3 449.3 L617.8 449.1 L617.8 447.9ZM624.4 469.9 L625.1 472.0 L624.3 472.1 L624.0 470.6ZM616.1 466.5 L615.9 467.6 L615.4 467.5 L615.4 466.8ZM654.9 542.0 L656.9 543.0 L655.4 544.7 L652.4 543.4 L653.1 542.5Z"/></clipPath><radialGradient id="r21_0"><stop offset="0" stop-color="#B0A070" stop-opacity="0.40"/><stop offset="0.5" stop-color="#B0A070" stop-opacity="0.28"/><stop offset="1" stop-color="#B0A070" stop-opacity="0"/></radialGradient></defs>
<g clip-path="url(#c21)"><rect x="597" y="416" width="90" height="140" fill="url(#g21)"/><path d="M626.8 468.6 L631.6 464.6 L637.1 460.5 L644.1 457.1 L643.4 453.6 L641.1 450.8 L638.2 448.7 L632.9 447.8 L630.1 443.6 L632.4 439.4 L634.7 436.7 L634.1 434.6 L630.4 433.8 L626.8 433.6 L624.4 437.7 L622.6 443.2 L621.6 448.8 L621.3 454.4 L621.0 458.5 L623.1 462.8 L625.3 467.1ZM626.3 481.2 L631.2 477.1 L636.9 473.1 L642.4 472.5 L646.3 474.6 L646.3 478.1 L640.7 480.2 L634.3 482.8 L628.6 483.3ZM643.9 482.3 L647.1 483.0 L648.7 490.0 L649.5 497.0 L650.4 502.6 L651.2 508.1 L649.1 509.5 L647.9 503.9 L645.8 497.0 L644.6 490.0ZM638.2 487.8 L642.2 488.6 L641.8 492.0 L638.9 492.7 L637.3 490.6ZM655.2 490.0 L659.3 490.6 L658.5 492.7 L655.2 492.7ZM631.0 543.5 L632.7 542.8 L633.1 545.6 L631.3 546.3ZM632.0 535.8 L635.5 536.6 L634.6 538.0 L632.0 537.2Z" fill="#AA8C5E" fill-opacity="0.80" filter="url(#bl1)"/><path d="M631.1 508.6 L634.5 508.0 L636.9 512.2 L635.9 517.8 L638.4 524.8 L637.5 527.6 L632.3 527.5 L631.5 521.9 L632.6 516.3 L631.8 512.1Z" fill="#B8AC86" fill-opacity="0.50" filter="url(#bl1)"/><path d="M628.7 460.3 L636.4 458.4 L639.6 455.0 L637.3 452.2 L632.0 452.0 L625.9 453.2 L624.2 457.3ZM623.8 450.3 L626.2 446.2 L627.2 440.6 L626.6 437.8 L624.2 441.9 L623.1 447.4Z" fill="#A07650" fill-opacity="0.70" filter="url(#bl3)"/><ellipse cx="615.0" cy="453.0" rx="12.8" ry="22.4" fill="url(#r21_0)"/></g></svg></body></html>
